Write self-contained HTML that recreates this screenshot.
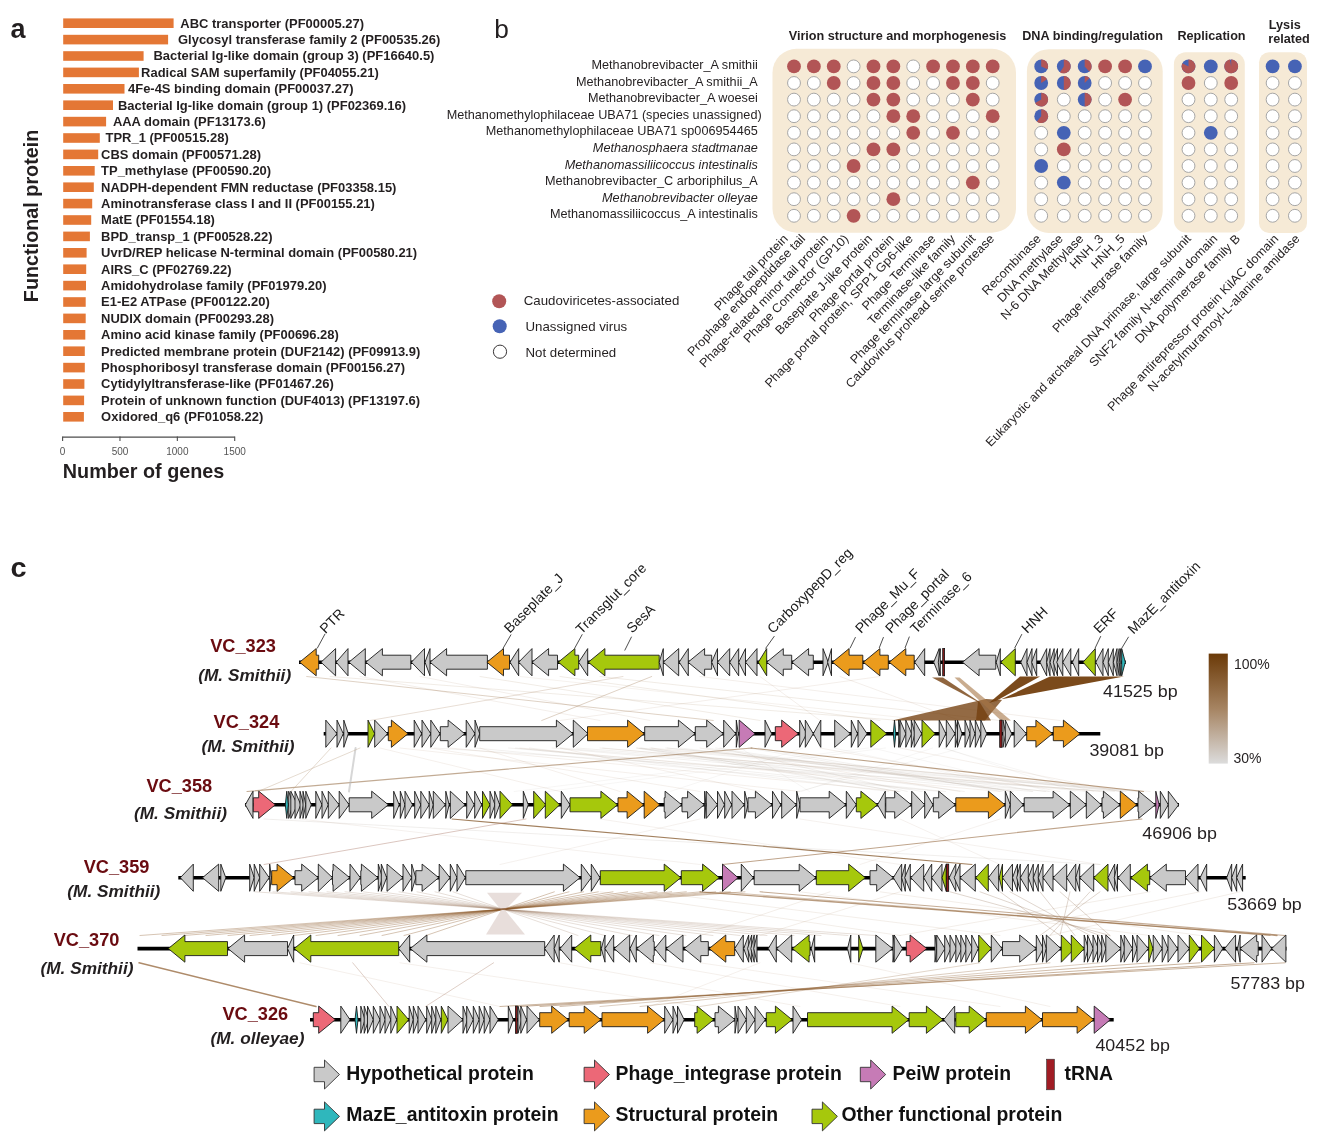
<!DOCTYPE html>
<html><head><meta charset="utf-8"><style>
html,body{margin:0;padding:0;background:#fff;}
svg{display:block;font-family:"Liberation Sans",sans-serif;will-change:transform;}
</style></head><body>
<svg width="1320" height="1148" viewBox="0 0 1320 1148">
<rect width="1320" height="1148" fill="#fff"/>
<text transform="translate(10.40,38.00)" font-size="27" font-weight="bold" fill="#231f20" >a</text>
<rect x="63.20" y="18.40" width="110.40" height="9.60" fill="#e47735" />
<text transform="translate(180.30,27.60) scale(1.0640,1)" font-size="12.2" font-weight="bold" fill="#231f20" >ABC transporter (PF00005.27)</text>
<rect x="63.20" y="34.80" width="104.90" height="9.60" fill="#e47735" />
<text transform="translate(178.00,44.00) scale(1.0640,1)" font-size="12.2" font-weight="bold" fill="#231f20" >Glycosyl transferase family 2 (PF00535.26)</text>
<rect x="63.20" y="51.20" width="80.40" height="9.60" fill="#e47735" />
<text transform="translate(153.50,60.40) scale(1.0640,1)" font-size="12.2" font-weight="bold" fill="#231f20" >Bacterial Ig-like domain (group 3) (PF16640.5)</text>
<rect x="63.20" y="67.60" width="75.70" height="9.60" fill="#e47735" />
<text transform="translate(141.10,76.80) scale(1.0640,1)" font-size="12.2" font-weight="bold" fill="#231f20" >Radical SAM superfamily (PF04055.21)</text>
<rect x="63.20" y="84.00" width="61.30" height="9.60" fill="#e47735" />
<text transform="translate(128.00,93.20) scale(1.0640,1)" font-size="12.2" font-weight="bold" fill="#231f20" >4Fe-4S binding domain (PF00037.27)</text>
<rect x="63.20" y="100.40" width="49.80" height="9.60" fill="#e47735" />
<text transform="translate(117.90,109.60) scale(1.0640,1)" font-size="12.2" font-weight="bold" fill="#231f20" >Bacterial Ig-like domain (group 1) (PF02369.16)</text>
<rect x="63.20" y="116.80" width="42.90" height="9.60" fill="#e47735" />
<text transform="translate(112.90,126.00) scale(1.0640,1)" font-size="12.2" font-weight="bold" fill="#231f20" >AAA domain (PF13173.6)</text>
<rect x="63.20" y="133.20" width="36.60" height="9.60" fill="#e47735" />
<text transform="translate(105.50,142.40) scale(1.0640,1)" font-size="12.2" font-weight="bold" fill="#231f20" >TPR_1 (PF00515.28)</text>
<rect x="63.20" y="149.60" width="35.00" height="9.60" fill="#e47735" />
<text transform="translate(101.10,158.80) scale(1.0640,1)" font-size="12.2" font-weight="bold" fill="#231f20" >CBS domain (PF00571.28)</text>
<rect x="63.20" y="166.00" width="31.50" height="9.60" fill="#e47735" />
<text transform="translate(101.10,175.20) scale(1.0640,1)" font-size="12.2" font-weight="bold" fill="#231f20" >TP_methylase (PF00590.20)</text>
<rect x="63.20" y="182.40" width="30.60" height="9.60" fill="#e47735" />
<text transform="translate(101.10,191.60) scale(1.0640,1)" font-size="12.2" font-weight="bold" fill="#231f20" >NADPH-dependent FMN reductase (PF03358.15)</text>
<rect x="63.20" y="198.80" width="29.00" height="9.60" fill="#e47735" />
<text transform="translate(101.10,208.00) scale(1.0640,1)" font-size="12.2" font-weight="bold" fill="#231f20" >Aminotransferase class I and II (PF00155.21)</text>
<rect x="63.20" y="215.20" width="28.00" height="9.60" fill="#e47735" />
<text transform="translate(101.10,224.40) scale(1.0640,1)" font-size="12.2" font-weight="bold" fill="#231f20" >MatE (PF01554.18)</text>
<rect x="63.20" y="231.60" width="26.70" height="9.60" fill="#e47735" />
<text transform="translate(101.10,240.80) scale(1.0640,1)" font-size="12.2" font-weight="bold" fill="#231f20" >BPD_transp_1 (PF00528.22)</text>
<rect x="63.20" y="248.00" width="23.40" height="9.60" fill="#e47735" />
<text transform="translate(101.10,257.20) scale(1.0640,1)" font-size="12.2" font-weight="bold" fill="#231f20" >UvrD/REP helicase N-terminal domain (PF00580.21)</text>
<rect x="63.20" y="264.40" width="23.00" height="9.60" fill="#e47735" />
<text transform="translate(101.10,273.60) scale(1.0640,1)" font-size="12.2" font-weight="bold" fill="#231f20" >AIRS_C (PF02769.22)</text>
<rect x="63.20" y="280.80" width="22.80" height="9.60" fill="#e47735" />
<text transform="translate(101.10,290.00) scale(1.0640,1)" font-size="12.2" font-weight="bold" fill="#231f20" >Amidohydrolase family (PF01979.20)</text>
<rect x="63.20" y="297.20" width="22.50" height="9.60" fill="#e47735" />
<text transform="translate(101.10,306.40) scale(1.0640,1)" font-size="12.2" font-weight="bold" fill="#231f20" >E1-E2 ATPase (PF00122.20)</text>
<rect x="63.20" y="313.60" width="22.50" height="9.60" fill="#e47735" />
<text transform="translate(101.10,322.80) scale(1.0640,1)" font-size="12.2" font-weight="bold" fill="#231f20" >NUDIX domain (PF00293.28)</text>
<rect x="63.20" y="330.00" width="22.10" height="9.60" fill="#e47735" />
<text transform="translate(101.10,339.20) scale(1.0640,1)" font-size="12.2" font-weight="bold" fill="#231f20" >Amino acid kinase family (PF00696.28)</text>
<rect x="63.20" y="346.40" width="21.60" height="9.60" fill="#e47735" />
<text transform="translate(101.10,355.60) scale(1.0640,1)" font-size="12.2" font-weight="bold" fill="#231f20" >Predicted membrane protein (DUF2142) (PF09913.9)</text>
<rect x="63.20" y="362.80" width="21.60" height="9.60" fill="#e47735" />
<text transform="translate(101.10,372.00) scale(1.0640,1)" font-size="12.2" font-weight="bold" fill="#231f20" >Phosphoribosyl transferase domain (PF00156.27)</text>
<rect x="63.20" y="379.20" width="21.20" height="9.60" fill="#e47735" />
<text transform="translate(101.10,388.40) scale(1.0640,1)" font-size="12.2" font-weight="bold" fill="#231f20" >Cytidylyltransferase-like (PF01467.26)</text>
<rect x="63.20" y="395.60" width="20.90" height="9.60" fill="#e47735" />
<text transform="translate(101.10,404.80) scale(1.0640,1)" font-size="12.2" font-weight="bold" fill="#231f20" >Protein of unknown function (DUF4013) (PF13197.6)</text>
<rect x="63.20" y="412.00" width="20.70" height="9.60" fill="#e47735" />
<text transform="translate(101.10,421.20) scale(1.0640,1)" font-size="12.2" font-weight="bold" fill="#231f20" >Oxidored_q6 (PF01058.22)</text>
<g stroke="#4d4d4d" stroke-width="1" fill="none">
<line x1="62.60" y1="437.10" x2="234.70" y2="437.10" stroke="#4d4d4d" stroke-width="1.1" />
<line x1="62.60" y1="436.60" x2="62.60" y2="441.00" stroke="#4d4d4d" stroke-width="1.1" />
<line x1="119.97" y1="436.60" x2="119.97" y2="441.00" stroke="#4d4d4d" stroke-width="1.1" />
<line x1="177.34" y1="436.60" x2="177.34" y2="441.00" stroke="#4d4d4d" stroke-width="1.1" />
<line x1="234.71" y1="436.60" x2="234.71" y2="441.00" stroke="#4d4d4d" stroke-width="1.1" />
</g>
<text transform="translate(62.60,454.50)" font-size="10" text-anchor="middle" fill="#555" >0</text>
<text transform="translate(119.97,454.50)" font-size="10" text-anchor="middle" fill="#555" >500</text>
<text transform="translate(177.34,454.50)" font-size="10" text-anchor="middle" fill="#555" >1000</text>
<text transform="translate(234.71,454.50)" font-size="10" text-anchor="middle" fill="#555" >1500</text>
<text transform="translate(62.80,478.30)" font-size="19.8" font-weight="bold" fill="#231f20" >Number of genes</text>
<text transform="translate(37.50,302.20) rotate(-90)" font-size="19.8" font-weight="bold" fill="#231f20" >Functional protein</text>
<text transform="translate(494.30,38.00)" font-size="26.3" fill="#231f20" >b</text>
<rect x="772.5" y="48.8" width="243.5" height="183.89999999999998" rx="24" ry="24" fill="#f6ead6"/>
<rect x="1026.9" y="49.2" width="135.79999999999995" height="183.8" rx="22" ry="22" fill="#f6ead6"/>
<rect x="1173.9" y="52.3" width="70.89999999999986" height="180.3" rx="12" ry="12" fill="#f6ead6"/>
<rect x="1259" y="52.3" width="48" height="180.7" rx="10" ry="10" fill="#f6ead6"/>
<text transform="translate(757.80,68.90) scale(1.0320,1)" font-size="12.3" text-anchor="end" fill="#231f20" >Methanobrevibacter_A smithii</text>
<text transform="translate(757.80,85.50) scale(1.0320,1)" font-size="12.3" text-anchor="end" fill="#231f20" >Methanobrevibacter_A smithii_A</text>
<text transform="translate(757.80,102.10) scale(1.0320,1)" font-size="12.3" text-anchor="end" fill="#231f20" >Methanobrevibacter_A woesei</text>
<text transform="translate(761.70,118.70) scale(1.0320,1)" font-size="12.3" text-anchor="end" fill="#231f20" >Methanomethylophilaceae UBA71 (species unassigned)</text>
<text transform="translate(757.80,135.30) scale(1.0320,1)" font-size="12.3" text-anchor="end" fill="#231f20" >Methanomethylophilaceae UBA71 sp006954465</text>
<text transform="translate(757.80,151.90) scale(1.0320,1)" font-size="12.3" font-style="italic" text-anchor="end" fill="#231f20" >Methanosphaera stadtmanae</text>
<text transform="translate(757.80,168.50) scale(1.0320,1)" font-size="12.3" font-style="italic" text-anchor="end" fill="#231f20" >Methanomassiliicoccus intestinalis</text>
<text transform="translate(757.80,185.10) scale(1.0320,1)" font-size="12.3" text-anchor="end" fill="#231f20" >Methanobrevibacter_C arboriphilus_A</text>
<text transform="translate(757.80,201.70) scale(1.0320,1)" font-size="12.3" font-style="italic" text-anchor="end" fill="#231f20" >Methanobrevibacter olleyae</text>
<text transform="translate(757.80,218.30) scale(1.0320,1)" font-size="12.3" text-anchor="end" fill="#231f20" >Methanomassiliicoccus_A intestinalis</text>
<circle cx="794.00" cy="66.40" r="6.90" fill="#b25556" stroke="none" stroke-width="0"/>
<circle cx="813.87" cy="66.40" r="6.90" fill="#b25556" stroke="none" stroke-width="0"/>
<circle cx="833.74" cy="66.40" r="6.90" fill="#b25556" stroke="none" stroke-width="0"/>
<circle cx="853.61" cy="66.40" r="6.43" fill="#fff" stroke="#a2a2a2" stroke-width="0.95"/>
<circle cx="873.48" cy="66.40" r="6.90" fill="#b25556" stroke="none" stroke-width="0"/>
<circle cx="893.35" cy="66.40" r="6.90" fill="#b25556" stroke="none" stroke-width="0"/>
<circle cx="913.22" cy="66.40" r="6.43" fill="#fff" stroke="#a2a2a2" stroke-width="0.95"/>
<circle cx="933.09" cy="66.40" r="6.90" fill="#b25556" stroke="none" stroke-width="0"/>
<circle cx="952.96" cy="66.40" r="6.90" fill="#b25556" stroke="none" stroke-width="0"/>
<circle cx="972.83" cy="66.40" r="6.90" fill="#b25556" stroke="none" stroke-width="0"/>
<circle cx="992.70" cy="66.40" r="6.90" fill="#b25556" stroke="none" stroke-width="0"/>
<circle cx="1041.20" cy="66.40" r="6.90" fill="#4663b5" stroke="none" stroke-width="0"/>
<path d="M1041.20,66.40 L1041.20,59.50 A6.9,6.9 0 0 1 1047.46,69.30 Z" fill="#b25556" stroke="none" stroke-width="0" />
<circle cx="1063.80" cy="66.40" r="6.90" fill="#4663b5" stroke="none" stroke-width="0"/>
<path d="M1063.80,66.40 L1063.80,59.50 A6.9,6.9 0 1 1 1059.96,72.13 Z" fill="#b25556" stroke="none" stroke-width="0" />
<circle cx="1084.70" cy="66.40" r="6.90" fill="#4663b5" stroke="none" stroke-width="0"/>
<path d="M1084.70,66.40 L1084.70,59.50 A6.9,6.9 0 0 1 1089.23,71.60 Z" fill="#b25556" stroke="none" stroke-width="0" />
<circle cx="1105.10" cy="66.40" r="6.90" fill="#b25556" stroke="none" stroke-width="0"/>
<circle cx="1125.10" cy="66.40" r="6.90" fill="#b25556" stroke="none" stroke-width="0"/>
<circle cx="1145.00" cy="66.40" r="6.90" fill="#4663b5" stroke="none" stroke-width="0"/>
<circle cx="1188.50" cy="66.40" r="6.90" fill="#4663b5" stroke="none" stroke-width="0"/>
<path d="M1188.50,66.40 L1188.50,59.50 A6.9,6.9 0 1 1 1182.39,63.19 Z" fill="#b25556" stroke="none" stroke-width="0" />
<circle cx="1210.80" cy="66.40" r="6.90" fill="#4663b5" stroke="none" stroke-width="0"/>
<circle cx="1231.20" cy="66.40" r="6.90" fill="#4663b5" stroke="none" stroke-width="0"/>
<path d="M1231.20,66.40 L1231.20,59.50 A6.9,6.9 0 1 1 1229.91,59.62 Z" fill="#b25556" stroke="none" stroke-width="0" />
<circle cx="1272.60" cy="66.40" r="6.90" fill="#4663b5" stroke="none" stroke-width="0"/>
<circle cx="1294.90" cy="66.40" r="6.90" fill="#4663b5" stroke="none" stroke-width="0"/>
<circle cx="794.00" cy="83.00" r="6.43" fill="#fff" stroke="#a2a2a2" stroke-width="0.95"/>
<circle cx="813.87" cy="83.00" r="6.43" fill="#fff" stroke="#a2a2a2" stroke-width="0.95"/>
<circle cx="833.74" cy="83.00" r="6.90" fill="#b25556" stroke="none" stroke-width="0"/>
<circle cx="853.61" cy="83.00" r="6.43" fill="#fff" stroke="#a2a2a2" stroke-width="0.95"/>
<circle cx="873.48" cy="83.00" r="6.90" fill="#b25556" stroke="none" stroke-width="0"/>
<circle cx="893.35" cy="83.00" r="6.90" fill="#b25556" stroke="none" stroke-width="0"/>
<circle cx="913.22" cy="83.00" r="6.43" fill="#fff" stroke="#a2a2a2" stroke-width="0.95"/>
<circle cx="933.09" cy="83.00" r="6.43" fill="#fff" stroke="#a2a2a2" stroke-width="0.95"/>
<circle cx="952.96" cy="83.00" r="6.90" fill="#b25556" stroke="none" stroke-width="0"/>
<circle cx="972.83" cy="83.00" r="6.90" fill="#b25556" stroke="none" stroke-width="0"/>
<circle cx="992.70" cy="83.00" r="6.43" fill="#fff" stroke="#a2a2a2" stroke-width="0.95"/>
<circle cx="1041.20" cy="83.00" r="6.90" fill="#4663b5" stroke="none" stroke-width="0"/>
<path d="M1041.20,83.00 L1041.20,76.10 A6.9,6.9 0 0 1 1047.03,79.30 Z" fill="#b25556" stroke="none" stroke-width="0" />
<circle cx="1063.80" cy="83.00" r="6.90" fill="#4663b5" stroke="none" stroke-width="0"/>
<path d="M1063.80,83.00 L1063.80,76.10 A6.9,6.9 0 0 1 1063.80,89.90 Z" fill="#b25556" stroke="none" stroke-width="0" />
<circle cx="1084.70" cy="83.00" r="6.90" fill="#4663b5" stroke="none" stroke-width="0"/>
<path d="M1084.70,83.00 L1084.70,76.10 A6.9,6.9 0 0 1 1089.58,78.12 Z" fill="#b25556" stroke="none" stroke-width="0" />
<circle cx="1105.10" cy="83.00" r="6.43" fill="#fff" stroke="#a2a2a2" stroke-width="0.95"/>
<circle cx="1125.10" cy="83.00" r="6.43" fill="#fff" stroke="#a2a2a2" stroke-width="0.95"/>
<circle cx="1145.00" cy="83.00" r="6.43" fill="#fff" stroke="#a2a2a2" stroke-width="0.95"/>
<circle cx="1188.50" cy="83.00" r="6.90" fill="#b25556" stroke="none" stroke-width="0"/>
<circle cx="1210.80" cy="83.00" r="6.43" fill="#fff" stroke="#a2a2a2" stroke-width="0.95"/>
<circle cx="1231.20" cy="83.00" r="6.90" fill="#b25556" stroke="none" stroke-width="0"/>
<circle cx="1272.60" cy="83.00" r="6.43" fill="#fff" stroke="#a2a2a2" stroke-width="0.95"/>
<circle cx="1294.90" cy="83.00" r="6.43" fill="#fff" stroke="#a2a2a2" stroke-width="0.95"/>
<circle cx="794.00" cy="99.60" r="6.43" fill="#fff" stroke="#a2a2a2" stroke-width="0.95"/>
<circle cx="813.87" cy="99.60" r="6.43" fill="#fff" stroke="#a2a2a2" stroke-width="0.95"/>
<circle cx="833.74" cy="99.60" r="6.43" fill="#fff" stroke="#a2a2a2" stroke-width="0.95"/>
<circle cx="853.61" cy="99.60" r="6.43" fill="#fff" stroke="#a2a2a2" stroke-width="0.95"/>
<circle cx="873.48" cy="99.60" r="6.90" fill="#b25556" stroke="none" stroke-width="0"/>
<circle cx="893.35" cy="99.60" r="6.90" fill="#b25556" stroke="none" stroke-width="0"/>
<circle cx="913.22" cy="99.60" r="6.43" fill="#fff" stroke="#a2a2a2" stroke-width="0.95"/>
<circle cx="933.09" cy="99.60" r="6.43" fill="#fff" stroke="#a2a2a2" stroke-width="0.95"/>
<circle cx="952.96" cy="99.60" r="6.43" fill="#fff" stroke="#a2a2a2" stroke-width="0.95"/>
<circle cx="972.83" cy="99.60" r="6.90" fill="#b25556" stroke="none" stroke-width="0"/>
<circle cx="992.70" cy="99.60" r="6.43" fill="#fff" stroke="#a2a2a2" stroke-width="0.95"/>
<circle cx="1041.20" cy="99.60" r="6.90" fill="#4663b5" stroke="none" stroke-width="0"/>
<path d="M1041.20,99.60 L1041.20,92.70 A6.9,6.9 0 1 1 1035.13,102.89 Z" fill="#b25556" stroke="none" stroke-width="0" />
<circle cx="1063.80" cy="99.60" r="6.43" fill="#fff" stroke="#a2a2a2" stroke-width="0.95"/>
<circle cx="1084.70" cy="99.60" r="6.90" fill="#4663b5" stroke="none" stroke-width="0"/>
<path d="M1084.70,99.60 L1084.70,92.70 A6.9,6.9 0 0 1 1084.70,106.50 Z" fill="#b25556" stroke="none" stroke-width="0" />
<circle cx="1105.10" cy="99.60" r="6.43" fill="#fff" stroke="#a2a2a2" stroke-width="0.95"/>
<circle cx="1125.10" cy="99.60" r="6.90" fill="#b25556" stroke="none" stroke-width="0"/>
<circle cx="1145.00" cy="99.60" r="6.43" fill="#fff" stroke="#a2a2a2" stroke-width="0.95"/>
<circle cx="1188.50" cy="99.60" r="6.43" fill="#fff" stroke="#a2a2a2" stroke-width="0.95"/>
<circle cx="1210.80" cy="99.60" r="6.43" fill="#fff" stroke="#a2a2a2" stroke-width="0.95"/>
<circle cx="1231.20" cy="99.60" r="6.43" fill="#fff" stroke="#a2a2a2" stroke-width="0.95"/>
<circle cx="1272.60" cy="99.60" r="6.43" fill="#fff" stroke="#a2a2a2" stroke-width="0.95"/>
<circle cx="1294.90" cy="99.60" r="6.43" fill="#fff" stroke="#a2a2a2" stroke-width="0.95"/>
<circle cx="794.00" cy="116.20" r="6.43" fill="#fff" stroke="#a2a2a2" stroke-width="0.95"/>
<circle cx="813.87" cy="116.20" r="6.43" fill="#fff" stroke="#a2a2a2" stroke-width="0.95"/>
<circle cx="833.74" cy="116.20" r="6.43" fill="#fff" stroke="#a2a2a2" stroke-width="0.95"/>
<circle cx="853.61" cy="116.20" r="6.43" fill="#fff" stroke="#a2a2a2" stroke-width="0.95"/>
<circle cx="873.48" cy="116.20" r="6.43" fill="#fff" stroke="#a2a2a2" stroke-width="0.95"/>
<circle cx="893.35" cy="116.20" r="6.90" fill="#b25556" stroke="none" stroke-width="0"/>
<circle cx="913.22" cy="116.20" r="6.90" fill="#b25556" stroke="none" stroke-width="0"/>
<circle cx="933.09" cy="116.20" r="6.43" fill="#fff" stroke="#a2a2a2" stroke-width="0.95"/>
<circle cx="952.96" cy="116.20" r="6.43" fill="#fff" stroke="#a2a2a2" stroke-width="0.95"/>
<circle cx="972.83" cy="116.20" r="6.43" fill="#fff" stroke="#a2a2a2" stroke-width="0.95"/>
<circle cx="992.70" cy="116.20" r="6.90" fill="#b25556" stroke="none" stroke-width="0"/>
<circle cx="1041.20" cy="116.20" r="6.90" fill="#4663b5" stroke="none" stroke-width="0"/>
<path d="M1041.20,116.20 L1041.20,109.30 A6.9,6.9 0 1 1 1036.84,121.54 Z" fill="#b25556" stroke="none" stroke-width="0" />
<circle cx="1063.80" cy="116.20" r="6.43" fill="#fff" stroke="#a2a2a2" stroke-width="0.95"/>
<circle cx="1084.70" cy="116.20" r="6.43" fill="#fff" stroke="#a2a2a2" stroke-width="0.95"/>
<circle cx="1105.10" cy="116.20" r="6.43" fill="#fff" stroke="#a2a2a2" stroke-width="0.95"/>
<circle cx="1125.10" cy="116.20" r="6.43" fill="#fff" stroke="#a2a2a2" stroke-width="0.95"/>
<circle cx="1145.00" cy="116.20" r="6.43" fill="#fff" stroke="#a2a2a2" stroke-width="0.95"/>
<circle cx="1188.50" cy="116.20" r="6.43" fill="#fff" stroke="#a2a2a2" stroke-width="0.95"/>
<circle cx="1210.80" cy="116.20" r="6.43" fill="#fff" stroke="#a2a2a2" stroke-width="0.95"/>
<circle cx="1231.20" cy="116.20" r="6.43" fill="#fff" stroke="#a2a2a2" stroke-width="0.95"/>
<circle cx="1272.60" cy="116.20" r="6.43" fill="#fff" stroke="#a2a2a2" stroke-width="0.95"/>
<circle cx="1294.90" cy="116.20" r="6.43" fill="#fff" stroke="#a2a2a2" stroke-width="0.95"/>
<circle cx="794.00" cy="132.80" r="6.43" fill="#fff" stroke="#a2a2a2" stroke-width="0.95"/>
<circle cx="813.87" cy="132.80" r="6.43" fill="#fff" stroke="#a2a2a2" stroke-width="0.95"/>
<circle cx="833.74" cy="132.80" r="6.43" fill="#fff" stroke="#a2a2a2" stroke-width="0.95"/>
<circle cx="853.61" cy="132.80" r="6.43" fill="#fff" stroke="#a2a2a2" stroke-width="0.95"/>
<circle cx="873.48" cy="132.80" r="6.43" fill="#fff" stroke="#a2a2a2" stroke-width="0.95"/>
<circle cx="893.35" cy="132.80" r="6.43" fill="#fff" stroke="#a2a2a2" stroke-width="0.95"/>
<circle cx="913.22" cy="132.80" r="6.90" fill="#b25556" stroke="none" stroke-width="0"/>
<circle cx="933.09" cy="132.80" r="6.43" fill="#fff" stroke="#a2a2a2" stroke-width="0.95"/>
<circle cx="952.96" cy="132.80" r="6.90" fill="#b25556" stroke="none" stroke-width="0"/>
<circle cx="972.83" cy="132.80" r="6.43" fill="#fff" stroke="#a2a2a2" stroke-width="0.95"/>
<circle cx="992.70" cy="132.80" r="6.43" fill="#fff" stroke="#a2a2a2" stroke-width="0.95"/>
<circle cx="1041.20" cy="132.80" r="6.43" fill="#fff" stroke="#a2a2a2" stroke-width="0.95"/>
<circle cx="1063.80" cy="132.80" r="6.90" fill="#4663b5" stroke="none" stroke-width="0"/>
<circle cx="1084.70" cy="132.80" r="6.43" fill="#fff" stroke="#a2a2a2" stroke-width="0.95"/>
<circle cx="1105.10" cy="132.80" r="6.43" fill="#fff" stroke="#a2a2a2" stroke-width="0.95"/>
<circle cx="1125.10" cy="132.80" r="6.43" fill="#fff" stroke="#a2a2a2" stroke-width="0.95"/>
<circle cx="1145.00" cy="132.80" r="6.43" fill="#fff" stroke="#a2a2a2" stroke-width="0.95"/>
<circle cx="1188.50" cy="132.80" r="6.43" fill="#fff" stroke="#a2a2a2" stroke-width="0.95"/>
<circle cx="1210.80" cy="132.80" r="6.90" fill="#4663b5" stroke="none" stroke-width="0"/>
<circle cx="1231.20" cy="132.80" r="6.43" fill="#fff" stroke="#a2a2a2" stroke-width="0.95"/>
<circle cx="1272.60" cy="132.80" r="6.43" fill="#fff" stroke="#a2a2a2" stroke-width="0.95"/>
<circle cx="1294.90" cy="132.80" r="6.43" fill="#fff" stroke="#a2a2a2" stroke-width="0.95"/>
<circle cx="794.00" cy="149.40" r="6.43" fill="#fff" stroke="#a2a2a2" stroke-width="0.95"/>
<circle cx="813.87" cy="149.40" r="6.43" fill="#fff" stroke="#a2a2a2" stroke-width="0.95"/>
<circle cx="833.74" cy="149.40" r="6.43" fill="#fff" stroke="#a2a2a2" stroke-width="0.95"/>
<circle cx="853.61" cy="149.40" r="6.43" fill="#fff" stroke="#a2a2a2" stroke-width="0.95"/>
<circle cx="873.48" cy="149.40" r="6.90" fill="#b25556" stroke="none" stroke-width="0"/>
<circle cx="893.35" cy="149.40" r="6.90" fill="#b25556" stroke="none" stroke-width="0"/>
<circle cx="913.22" cy="149.40" r="6.43" fill="#fff" stroke="#a2a2a2" stroke-width="0.95"/>
<circle cx="933.09" cy="149.40" r="6.43" fill="#fff" stroke="#a2a2a2" stroke-width="0.95"/>
<circle cx="952.96" cy="149.40" r="6.43" fill="#fff" stroke="#a2a2a2" stroke-width="0.95"/>
<circle cx="972.83" cy="149.40" r="6.43" fill="#fff" stroke="#a2a2a2" stroke-width="0.95"/>
<circle cx="992.70" cy="149.40" r="6.43" fill="#fff" stroke="#a2a2a2" stroke-width="0.95"/>
<circle cx="1041.20" cy="149.40" r="6.43" fill="#fff" stroke="#a2a2a2" stroke-width="0.95"/>
<circle cx="1063.80" cy="149.40" r="6.90" fill="#b25556" stroke="none" stroke-width="0"/>
<circle cx="1084.70" cy="149.40" r="6.43" fill="#fff" stroke="#a2a2a2" stroke-width="0.95"/>
<circle cx="1105.10" cy="149.40" r="6.43" fill="#fff" stroke="#a2a2a2" stroke-width="0.95"/>
<circle cx="1125.10" cy="149.40" r="6.43" fill="#fff" stroke="#a2a2a2" stroke-width="0.95"/>
<circle cx="1145.00" cy="149.40" r="6.43" fill="#fff" stroke="#a2a2a2" stroke-width="0.95"/>
<circle cx="1188.50" cy="149.40" r="6.43" fill="#fff" stroke="#a2a2a2" stroke-width="0.95"/>
<circle cx="1210.80" cy="149.40" r="6.43" fill="#fff" stroke="#a2a2a2" stroke-width="0.95"/>
<circle cx="1231.20" cy="149.40" r="6.43" fill="#fff" stroke="#a2a2a2" stroke-width="0.95"/>
<circle cx="1272.60" cy="149.40" r="6.43" fill="#fff" stroke="#a2a2a2" stroke-width="0.95"/>
<circle cx="1294.90" cy="149.40" r="6.43" fill="#fff" stroke="#a2a2a2" stroke-width="0.95"/>
<circle cx="794.00" cy="166.00" r="6.43" fill="#fff" stroke="#a2a2a2" stroke-width="0.95"/>
<circle cx="813.87" cy="166.00" r="6.43" fill="#fff" stroke="#a2a2a2" stroke-width="0.95"/>
<circle cx="833.74" cy="166.00" r="6.43" fill="#fff" stroke="#a2a2a2" stroke-width="0.95"/>
<circle cx="853.61" cy="166.00" r="6.90" fill="#b25556" stroke="none" stroke-width="0"/>
<circle cx="873.48" cy="166.00" r="6.43" fill="#fff" stroke="#a2a2a2" stroke-width="0.95"/>
<circle cx="893.35" cy="166.00" r="6.43" fill="#fff" stroke="#a2a2a2" stroke-width="0.95"/>
<circle cx="913.22" cy="166.00" r="6.43" fill="#fff" stroke="#a2a2a2" stroke-width="0.95"/>
<circle cx="933.09" cy="166.00" r="6.43" fill="#fff" stroke="#a2a2a2" stroke-width="0.95"/>
<circle cx="952.96" cy="166.00" r="6.43" fill="#fff" stroke="#a2a2a2" stroke-width="0.95"/>
<circle cx="972.83" cy="166.00" r="6.43" fill="#fff" stroke="#a2a2a2" stroke-width="0.95"/>
<circle cx="992.70" cy="166.00" r="6.43" fill="#fff" stroke="#a2a2a2" stroke-width="0.95"/>
<circle cx="1041.20" cy="166.00" r="6.90" fill="#4663b5" stroke="none" stroke-width="0"/>
<circle cx="1063.80" cy="166.00" r="6.43" fill="#fff" stroke="#a2a2a2" stroke-width="0.95"/>
<circle cx="1084.70" cy="166.00" r="6.43" fill="#fff" stroke="#a2a2a2" stroke-width="0.95"/>
<circle cx="1105.10" cy="166.00" r="6.43" fill="#fff" stroke="#a2a2a2" stroke-width="0.95"/>
<circle cx="1125.10" cy="166.00" r="6.43" fill="#fff" stroke="#a2a2a2" stroke-width="0.95"/>
<circle cx="1145.00" cy="166.00" r="6.43" fill="#fff" stroke="#a2a2a2" stroke-width="0.95"/>
<circle cx="1188.50" cy="166.00" r="6.43" fill="#fff" stroke="#a2a2a2" stroke-width="0.95"/>
<circle cx="1210.80" cy="166.00" r="6.43" fill="#fff" stroke="#a2a2a2" stroke-width="0.95"/>
<circle cx="1231.20" cy="166.00" r="6.43" fill="#fff" stroke="#a2a2a2" stroke-width="0.95"/>
<circle cx="1272.60" cy="166.00" r="6.43" fill="#fff" stroke="#a2a2a2" stroke-width="0.95"/>
<circle cx="1294.90" cy="166.00" r="6.43" fill="#fff" stroke="#a2a2a2" stroke-width="0.95"/>
<circle cx="794.00" cy="182.60" r="6.43" fill="#fff" stroke="#a2a2a2" stroke-width="0.95"/>
<circle cx="813.87" cy="182.60" r="6.43" fill="#fff" stroke="#a2a2a2" stroke-width="0.95"/>
<circle cx="833.74" cy="182.60" r="6.43" fill="#fff" stroke="#a2a2a2" stroke-width="0.95"/>
<circle cx="853.61" cy="182.60" r="6.43" fill="#fff" stroke="#a2a2a2" stroke-width="0.95"/>
<circle cx="873.48" cy="182.60" r="6.43" fill="#fff" stroke="#a2a2a2" stroke-width="0.95"/>
<circle cx="893.35" cy="182.60" r="6.43" fill="#fff" stroke="#a2a2a2" stroke-width="0.95"/>
<circle cx="913.22" cy="182.60" r="6.43" fill="#fff" stroke="#a2a2a2" stroke-width="0.95"/>
<circle cx="933.09" cy="182.60" r="6.43" fill="#fff" stroke="#a2a2a2" stroke-width="0.95"/>
<circle cx="952.96" cy="182.60" r="6.43" fill="#fff" stroke="#a2a2a2" stroke-width="0.95"/>
<circle cx="972.83" cy="182.60" r="6.90" fill="#b25556" stroke="none" stroke-width="0"/>
<circle cx="992.70" cy="182.60" r="6.43" fill="#fff" stroke="#a2a2a2" stroke-width="0.95"/>
<circle cx="1041.20" cy="182.60" r="6.43" fill="#fff" stroke="#a2a2a2" stroke-width="0.95"/>
<circle cx="1063.80" cy="182.60" r="6.90" fill="#4663b5" stroke="none" stroke-width="0"/>
<circle cx="1084.70" cy="182.60" r="6.43" fill="#fff" stroke="#a2a2a2" stroke-width="0.95"/>
<circle cx="1105.10" cy="182.60" r="6.43" fill="#fff" stroke="#a2a2a2" stroke-width="0.95"/>
<circle cx="1125.10" cy="182.60" r="6.43" fill="#fff" stroke="#a2a2a2" stroke-width="0.95"/>
<circle cx="1145.00" cy="182.60" r="6.43" fill="#fff" stroke="#a2a2a2" stroke-width="0.95"/>
<circle cx="1188.50" cy="182.60" r="6.43" fill="#fff" stroke="#a2a2a2" stroke-width="0.95"/>
<circle cx="1210.80" cy="182.60" r="6.43" fill="#fff" stroke="#a2a2a2" stroke-width="0.95"/>
<circle cx="1231.20" cy="182.60" r="6.43" fill="#fff" stroke="#a2a2a2" stroke-width="0.95"/>
<circle cx="1272.60" cy="182.60" r="6.43" fill="#fff" stroke="#a2a2a2" stroke-width="0.95"/>
<circle cx="1294.90" cy="182.60" r="6.43" fill="#fff" stroke="#a2a2a2" stroke-width="0.95"/>
<circle cx="794.00" cy="199.20" r="6.43" fill="#fff" stroke="#a2a2a2" stroke-width="0.95"/>
<circle cx="813.87" cy="199.20" r="6.43" fill="#fff" stroke="#a2a2a2" stroke-width="0.95"/>
<circle cx="833.74" cy="199.20" r="6.43" fill="#fff" stroke="#a2a2a2" stroke-width="0.95"/>
<circle cx="853.61" cy="199.20" r="6.43" fill="#fff" stroke="#a2a2a2" stroke-width="0.95"/>
<circle cx="873.48" cy="199.20" r="6.43" fill="#fff" stroke="#a2a2a2" stroke-width="0.95"/>
<circle cx="893.35" cy="199.20" r="6.90" fill="#b25556" stroke="none" stroke-width="0"/>
<circle cx="913.22" cy="199.20" r="6.43" fill="#fff" stroke="#a2a2a2" stroke-width="0.95"/>
<circle cx="933.09" cy="199.20" r="6.43" fill="#fff" stroke="#a2a2a2" stroke-width="0.95"/>
<circle cx="952.96" cy="199.20" r="6.43" fill="#fff" stroke="#a2a2a2" stroke-width="0.95"/>
<circle cx="972.83" cy="199.20" r="6.43" fill="#fff" stroke="#a2a2a2" stroke-width="0.95"/>
<circle cx="992.70" cy="199.20" r="6.43" fill="#fff" stroke="#a2a2a2" stroke-width="0.95"/>
<circle cx="1041.20" cy="199.20" r="6.43" fill="#fff" stroke="#a2a2a2" stroke-width="0.95"/>
<circle cx="1063.80" cy="199.20" r="6.43" fill="#fff" stroke="#a2a2a2" stroke-width="0.95"/>
<circle cx="1084.70" cy="199.20" r="6.43" fill="#fff" stroke="#a2a2a2" stroke-width="0.95"/>
<circle cx="1105.10" cy="199.20" r="6.43" fill="#fff" stroke="#a2a2a2" stroke-width="0.95"/>
<circle cx="1125.10" cy="199.20" r="6.43" fill="#fff" stroke="#a2a2a2" stroke-width="0.95"/>
<circle cx="1145.00" cy="199.20" r="6.43" fill="#fff" stroke="#a2a2a2" stroke-width="0.95"/>
<circle cx="1188.50" cy="199.20" r="6.43" fill="#fff" stroke="#a2a2a2" stroke-width="0.95"/>
<circle cx="1210.80" cy="199.20" r="6.43" fill="#fff" stroke="#a2a2a2" stroke-width="0.95"/>
<circle cx="1231.20" cy="199.20" r="6.43" fill="#fff" stroke="#a2a2a2" stroke-width="0.95"/>
<circle cx="1272.60" cy="199.20" r="6.43" fill="#fff" stroke="#a2a2a2" stroke-width="0.95"/>
<circle cx="1294.90" cy="199.20" r="6.43" fill="#fff" stroke="#a2a2a2" stroke-width="0.95"/>
<circle cx="794.00" cy="215.80" r="6.43" fill="#fff" stroke="#a2a2a2" stroke-width="0.95"/>
<circle cx="813.87" cy="215.80" r="6.43" fill="#fff" stroke="#a2a2a2" stroke-width="0.95"/>
<circle cx="833.74" cy="215.80" r="6.43" fill="#fff" stroke="#a2a2a2" stroke-width="0.95"/>
<circle cx="853.61" cy="215.80" r="6.90" fill="#b25556" stroke="none" stroke-width="0"/>
<circle cx="873.48" cy="215.80" r="6.43" fill="#fff" stroke="#a2a2a2" stroke-width="0.95"/>
<circle cx="893.35" cy="215.80" r="6.43" fill="#fff" stroke="#a2a2a2" stroke-width="0.95"/>
<circle cx="913.22" cy="215.80" r="6.43" fill="#fff" stroke="#a2a2a2" stroke-width="0.95"/>
<circle cx="933.09" cy="215.80" r="6.43" fill="#fff" stroke="#a2a2a2" stroke-width="0.95"/>
<circle cx="952.96" cy="215.80" r="6.43" fill="#fff" stroke="#a2a2a2" stroke-width="0.95"/>
<circle cx="972.83" cy="215.80" r="6.43" fill="#fff" stroke="#a2a2a2" stroke-width="0.95"/>
<circle cx="992.70" cy="215.80" r="6.43" fill="#fff" stroke="#a2a2a2" stroke-width="0.95"/>
<circle cx="1041.20" cy="215.80" r="6.43" fill="#fff" stroke="#a2a2a2" stroke-width="0.95"/>
<circle cx="1063.80" cy="215.80" r="6.43" fill="#fff" stroke="#a2a2a2" stroke-width="0.95"/>
<circle cx="1084.70" cy="215.80" r="6.43" fill="#fff" stroke="#a2a2a2" stroke-width="0.95"/>
<circle cx="1105.10" cy="215.80" r="6.43" fill="#fff" stroke="#a2a2a2" stroke-width="0.95"/>
<circle cx="1125.10" cy="215.80" r="6.43" fill="#fff" stroke="#a2a2a2" stroke-width="0.95"/>
<circle cx="1145.00" cy="215.80" r="6.43" fill="#fff" stroke="#a2a2a2" stroke-width="0.95"/>
<circle cx="1188.50" cy="215.80" r="6.43" fill="#fff" stroke="#a2a2a2" stroke-width="0.95"/>
<circle cx="1210.80" cy="215.80" r="6.43" fill="#fff" stroke="#a2a2a2" stroke-width="0.95"/>
<circle cx="1231.20" cy="215.80" r="6.43" fill="#fff" stroke="#a2a2a2" stroke-width="0.95"/>
<circle cx="1272.60" cy="215.80" r="6.43" fill="#fff" stroke="#a2a2a2" stroke-width="0.95"/>
<circle cx="1294.90" cy="215.80" r="6.43" fill="#fff" stroke="#a2a2a2" stroke-width="0.95"/>
<text transform="translate(788.70,39.70) scale(1.0300,1)" font-size="12.3" font-weight="bold" fill="#231f20" >Virion structure and morphogenesis</text>
<text transform="translate(1022.20,39.70) scale(1.0300,1)" font-size="12.3" font-weight="bold" fill="#231f20" >DNA binding/regulation</text>
<text transform="translate(1177.40,39.70) scale(1.0300,1)" font-size="12.3" font-weight="bold" fill="#231f20" >Replication</text>
<text transform="translate(1268.80,28.80) scale(1.0300,1)" font-size="12.3" font-weight="bold" fill="#231f20" >Lysis</text>
<text transform="translate(1268.30,42.90) scale(1.0300,1)" font-size="12.3" font-weight="bold" fill="#231f20" >related</text>
<text transform="translate(788.70,239.30) rotate(-46) scale(1.0450,1)" font-size="12.3" text-anchor="end" fill="#231f20" >Phage tail protein</text>
<text transform="translate(806.07,239.30) rotate(-46) scale(1.0450,1)" font-size="12.3" text-anchor="end" fill="#231f20" >Prophage endopeptidase tail</text>
<text transform="translate(828.94,239.30) rotate(-46) scale(1.0450,1)" font-size="12.3" text-anchor="end" fill="#231f20" >Phage-related minor tail protein</text>
<text transform="translate(849.21,239.30) rotate(-46) scale(1.0450,1)" font-size="12.3" text-anchor="end" fill="#231f20" >Phage Connector (GP10)</text>
<text transform="translate(872.88,239.30) rotate(-46) scale(1.0450,1)" font-size="12.3" text-anchor="end" fill="#231f20" >Baseplate J-like protein</text>
<text transform="translate(894.65,239.30) rotate(-46) scale(1.0450,1)" font-size="12.3" text-anchor="end" fill="#231f20" >Phage portal protein</text>
<text transform="translate(913.62,239.30) rotate(-46) scale(1.0450,1)" font-size="12.3" text-anchor="end" fill="#231f20" >Phage portal protein, SPP1 Gp6-like</text>
<text transform="translate(936.19,239.30) rotate(-46) scale(1.0450,1)" font-size="12.3" text-anchor="end" fill="#231f20" >Phage Terminase</text>
<text transform="translate(956.06,239.30) rotate(-46) scale(1.0450,1)" font-size="12.3" text-anchor="end" fill="#231f20" >Terminase-like family</text>
<text transform="translate(976.13,239.30) rotate(-46) scale(1.0450,1)" font-size="12.3" text-anchor="end" fill="#231f20" >Phage terminase large subunit</text>
<text transform="translate(994.90,239.30) rotate(-46) scale(1.0450,1)" font-size="12.3" text-anchor="end" fill="#231f20" >Caudovirus prohead serine protease</text>
<text transform="translate(1041.60,239.30) rotate(-46) scale(1.0450,1)" font-size="12.3" text-anchor="end" fill="#231f20" >Recombinase</text>
<text transform="translate(1063.60,239.30) rotate(-46) scale(1.0450,1)" font-size="12.3" text-anchor="end" fill="#231f20" >DNA methylase</text>
<text transform="translate(1084.10,239.30) rotate(-46) scale(1.0450,1)" font-size="12.3" text-anchor="end" fill="#231f20" >N-6 DNA Methylase</text>
<text transform="translate(1104.10,239.30) rotate(-46) scale(1.0450,1)" font-size="12.3" text-anchor="end" fill="#231f20" >HNH_3</text>
<text transform="translate(1125.40,239.30) rotate(-46) scale(1.0450,1)" font-size="12.3" text-anchor="end" fill="#231f20" >HNH_5</text>
<text transform="translate(1148.10,239.30) rotate(-46) scale(1.0450,1)" font-size="12.3" text-anchor="end" fill="#231f20" >Phage integrase family</text>
<text transform="translate(1191.60,239.30) rotate(-46) scale(1.0150,1)" font-size="12.3" text-anchor="end" fill="#231f20" >Eukaryotic and archaeal DNA primase, large subunit</text>
<text transform="translate(1218.20,239.30) rotate(-46) scale(1.0450,1)" font-size="12.3" text-anchor="end" fill="#231f20" >SNF2 family N-terminal domain</text>
<text transform="translate(1241.00,239.30) rotate(-46) scale(1.0450,1)" font-size="12.3" text-anchor="end" fill="#231f20" >DNA polymerase family B</text>
<text transform="translate(1279.10,239.30) rotate(-46) scale(1.0450,1)" font-size="12.3" text-anchor="end" fill="#231f20" >Phage antirepressor protein KilAC domain</text>
<text transform="translate(1300.40,239.30) rotate(-46) scale(1.0450,1)" font-size="12.3" text-anchor="end" fill="#231f20" >N-acetylmuramoyl-L-alanine amidase</text>
<circle cx="499.20" cy="301.30" r="7.00" fill="#b25556" stroke="none" stroke-width="0"/>
<text transform="translate(523.80,305.20) scale(1.0200,1)" font-size="13" fill="#231f20" >Caudoviricetes-associated</text>
<circle cx="499.70" cy="326.30" r="7.00" fill="#4663b5" stroke="none" stroke-width="0"/>
<text transform="translate(525.50,330.80) scale(1.0200,1)" font-size="13" fill="#231f20" >Unassigned virus</text>
<circle cx="500.00" cy="351.70" r="6.60" fill="#fff" stroke="#231f20" stroke-width="0.9"/>
<text transform="translate(525.50,357.30) scale(1.0200,1)" font-size="13" fill="#231f20" >Not determined</text>
<g stroke-linecap="round">
<line x1="306.7" y1="676.5" x2="713.3" y2="720.5" stroke="#8b5a2b" stroke-width="0.8" stroke-opacity="0.35"/>
<line x1="651.7" y1="676.5" x2="541.7" y2="720.5" stroke="#8b5a2b" stroke-width="0.8" stroke-opacity="0.35"/>
<line x1="623" y1="676.5" x2="370" y2="720.5" stroke="#8b5a2b" stroke-width="0.8" stroke-opacity="0.25"/>
<line x1="330" y1="676.5" x2="900" y2="720.5" stroke="#8b5a2b" stroke-width="0.8" stroke-opacity="0.15"/>
<line x1="480" y1="676.5" x2="760" y2="720.5" stroke="#8b5a2b" stroke-width="0.8" stroke-opacity="0.15"/>
<line x1="600" y1="676.5" x2="1000" y2="720.5" stroke="#8b5a2b" stroke-width="0.8" stroke-opacity="0.15"/>
<line x1="700" y1="676.5" x2="1060" y2="720.5" stroke="#8b5a2b" stroke-width="0.8" stroke-opacity="0.12"/>
<line x1="560" y1="676.5" x2="880" y2="720.5" stroke="#8b5a2b" stroke-width="0.8" stroke-opacity="0.15"/>
<line x1="760" y1="676.5" x2="820" y2="720.5" stroke="#8b5a2b" stroke-width="0.8" stroke-opacity="0.12"/>
<line x1="420" y1="676.5" x2="650" y2="720.5" stroke="#8b5a2b" stroke-width="0.8" stroke-opacity="0.12"/>
<line x1="840" y1="676.5" x2="960" y2="720.5" stroke="#8b5a2b" stroke-width="0.8" stroke-opacity="0.12"/>
<line x1="880" y1="676.5" x2="560" y2="720.5" stroke="#8b5a2b" stroke-width="0.8" stroke-opacity="0.12"/>
<line x1="520" y1="676.5" x2="930" y2="720.5" stroke="#8b5a2b" stroke-width="0.8" stroke-opacity="0.1"/>
<line x1="360" y1="676.5" x2="600" y2="720.5" stroke="#8b5a2b" stroke-width="0.8" stroke-opacity="0.12"/>
<path d="M1020,676.5 L1040,676.5 L996,701 L989,703 Z" fill="#74400f" fill-opacity="0.95"/>
<path d="M1050,676.5 L1124,676.5 L1000,699.5 L991,704 Z" fill="#74400f" fill-opacity="0.95"/>
<path d="M986,699 L1002,700 L985,720.5 L892,720.5 Z" fill="#74400f" fill-opacity="0.78"/>
<path d="M932,677.5 L943,677.5 L979.5,702 L978,702 Z" fill="#74400f" fill-opacity="0.8"/>
<path d="M978,702 L979.5,702 L991,720.5 L976,720.5 Z" fill="#74400f" fill-opacity="0.8"/>
<path d="M954.5,677.5 L959.5,677.5 L1011,720.5 L1001,720.5 Z" fill="#a57444" fill-opacity="0.6"/>
<line x1="752" y1="748" x2="247" y2="791.5" stroke="#a88866" stroke-width="1.1" stroke-opacity="0.7"/>
<line x1="751" y1="748" x2="1143.6" y2="791.5" stroke="#a07a55" stroke-width="1.1" stroke-opacity="0.7"/>
<line x1="355.6" y1="748" x2="349" y2="791.5" stroke="#bdbdbd" stroke-width="2.0" stroke-opacity="0.6"/>
<line x1="331" y1="748" x2="291" y2="791.5" stroke="#bfa48a" stroke-width="0.8" stroke-opacity="0.5"/>
<line x1="360" y1="748" x2="258" y2="791.5" stroke="#bfa48a" stroke-width="0.8" stroke-opacity="0.5"/>
<line x1="400" y1="748" x2="800" y2="791.5" stroke="#8b5a2b" stroke-width="0.7" stroke-opacity="0.13"/>
<line x1="450" y1="748" x2="900" y2="791.5" stroke="#8b5a2b" stroke-width="0.7" stroke-opacity="0.13"/>
<line x1="520" y1="748" x2="1000" y2="791.5" stroke="#8b5a2b" stroke-width="0.7" stroke-opacity="0.13"/>
<line x1="600" y1="748" x2="1100" y2="791.5" stroke="#8b5a2b" stroke-width="0.7" stroke-opacity="0.13"/>
<line x1="650" y1="748" x2="1150" y2="791.5" stroke="#8b5a2b" stroke-width="0.7" stroke-opacity="0.13"/>
<line x1="430" y1="748" x2="700" y2="791.5" stroke="#8b5a2b" stroke-width="0.7" stroke-opacity="0.13"/>
<line x1="480" y1="748" x2="620" y2="791.5" stroke="#8b5a2b" stroke-width="0.7" stroke-opacity="0.13"/>
<line x1="700" y1="748" x2="960" y2="791.5" stroke="#8b5a2b" stroke-width="0.7" stroke-opacity="0.13"/>
<line x1="820" y1="748" x2="1060" y2="791.5" stroke="#8b5a2b" stroke-width="0.7" stroke-opacity="0.13"/>
<line x1="900" y1="748" x2="1120" y2="791.5" stroke="#8b5a2b" stroke-width="0.7" stroke-opacity="0.13"/>
<line x1="560" y1="748" x2="760" y2="791.5" stroke="#8b5a2b" stroke-width="0.7" stroke-opacity="0.13"/>
<line x1="380" y1="748" x2="560" y2="791.5" stroke="#8b5a2b" stroke-width="0.7" stroke-opacity="0.13"/>
<line x1="508.5283269403242" y1="748" x2="1032.3841830828665" y2="791.5" stroke="#a09080" stroke-width="0.7" stroke-opacity="0.18"/>
<line x1="552.0852049608661" y1="748" x2="1049.0976108069344" y2="791.5" stroke="#a09080" stroke-width="0.7" stroke-opacity="0.18"/>
<line x1="636.4877003556578" y1="748" x2="898.3480805871477" y2="791.5" stroke="#a09080" stroke-width="0.7" stroke-opacity="0.18"/>
<line x1="434.3454372131085" y1="748" x2="1114.491342987009" y2="791.5" stroke="#a09080" stroke-width="0.7" stroke-opacity="0.18"/>
<line x1="515.5868247282425" y1="748" x2="945.6126690930749" y2="791.5" stroke="#a09080" stroke-width="0.7" stroke-opacity="0.18"/>
<line x1="758.5627957184527" y1="748" x2="1011.6737821062854" y2="791.5" stroke="#a09080" stroke-width="0.7" stroke-opacity="0.18"/>
<line x1="706.0322789205483" y1="748" x2="1013.3788984358138" y2="791.5" stroke="#a09080" stroke-width="0.7" stroke-opacity="0.18"/>
<line x1="640.8924863795735" y1="748" x2="922.1725987265867" y2="791.5" stroke="#a09080" stroke-width="0.7" stroke-opacity="0.18"/>
<line x1="639.5040172341122" y1="748" x2="1123.052686000123" y2="791.5" stroke="#a09080" stroke-width="0.7" stroke-opacity="0.18"/>
<line x1="602.6497994264894" y1="748" x2="1087.5505197364173" y2="791.5" stroke="#a09080" stroke-width="0.7" stroke-opacity="0.18"/>
<line x1="651.5657868719655" y1="748" x2="897.9288027035592" y2="791.5" stroke="#a09080" stroke-width="0.7" stroke-opacity="0.18"/>
<line x1="680.2159812746497" y1="748" x2="1045.507883220769" y2="791.5" stroke="#a09080" stroke-width="0.7" stroke-opacity="0.18"/>
<line x1="529.4183276401851" y1="748" x2="888.68329041153" y2="791.5" stroke="#a09080" stroke-width="0.7" stroke-opacity="0.18"/>
<line x1="715.623988203052" y1="748" x2="1012.3697448263307" y2="791.5" stroke="#a09080" stroke-width="0.7" stroke-opacity="0.18"/>
<line x1="667.2118949417151" y1="748" x2="1126.0675840715348" y2="791.5" stroke="#a09080" stroke-width="0.7" stroke-opacity="0.18"/>
<line x1="665.6627295916968" y1="748" x2="1137.907626923485" y2="791.5" stroke="#a09080" stroke-width="0.7" stroke-opacity="0.18"/>
<line x1="560.3379233202455" y1="748" x2="1104.2544558758639" y2="791.5" stroke="#a09080" stroke-width="0.7" stroke-opacity="0.18"/>
<line x1="576.724948496751" y1="748" x2="1141.964282077266" y2="791.5" stroke="#a09080" stroke-width="0.7" stroke-opacity="0.18"/>
<line x1="720.0259979115538" y1="748" x2="907.2872067246457" y2="791.5" stroke="#a09080" stroke-width="0.7" stroke-opacity="0.18"/>
<line x1="474.86972386622074" y1="748" x2="940.7563435452785" y2="791.5" stroke="#a09080" stroke-width="0.7" stroke-opacity="0.18"/>
<line x1="748.608445836407" y1="748" x2="1002.1253226556802" y2="791.5" stroke="#a09080" stroke-width="0.7" stroke-opacity="0.18"/>
<line x1="636.7939359860453" y1="748" x2="964.2873355591415" y2="791.5" stroke="#a09080" stroke-width="0.7" stroke-opacity="0.18"/>
<line x1="802.8971935316238" y1="748" x2="670.1063811914319" y2="791.5" stroke="#a09080" stroke-width="0.7" stroke-opacity="0.12"/>
<line x1="740.364195508072" y1="748" x2="809.5518751837544" y2="791.5" stroke="#a09080" stroke-width="0.7" stroke-opacity="0.12"/>
<line x1="833.7007171880796" y1="748" x2="1032.9412395934426" y2="791.5" stroke="#a09080" stroke-width="0.7" stroke-opacity="0.12"/>
<line x1="872.7928546539866" y1="748" x2="1050.261920840012" y2="791.5" stroke="#a09080" stroke-width="0.7" stroke-opacity="0.12"/>
<line x1="942.5602265587022" y1="748" x2="1093.6927514081706" y2="791.5" stroke="#a09080" stroke-width="0.7" stroke-opacity="0.12"/>
<line x1="868.5094168650073" y1="748" x2="514.1697353797488" y2="791.5" stroke="#a09080" stroke-width="0.7" stroke-opacity="0.12"/>
<line x1="944.2550132465074" y1="748" x2="1075.243063116343" y2="791.5" stroke="#a09080" stroke-width="0.7" stroke-opacity="0.12"/>
<line x1="961.8783938048946" y1="748" x2="798.3752524320264" y2="791.5" stroke="#a09080" stroke-width="0.7" stroke-opacity="0.12"/>
<line x1="885.5268080696796" y1="748" x2="547.7874885729188" y2="791.5" stroke="#a09080" stroke-width="0.7" stroke-opacity="0.12"/>
<line x1="932.6431721093417" y1="748" x2="801.4726466458993" y2="791.5" stroke="#a09080" stroke-width="0.7" stroke-opacity="0.12"/>
<line x1="452" y1="819" x2="972" y2="864.5" stroke="#7a4a1a" stroke-width="1.1" stroke-opacity="0.7"/>
<line x1="526" y1="819" x2="264" y2="864.5" stroke="#b08070" stroke-width="1.0" stroke-opacity="0.45"/>
<line x1="1142" y1="819" x2="722.7" y2="864.5" stroke="#8b5a2b" stroke-width="1.1" stroke-opacity="0.55"/>
<line x1="264" y1="819" x2="1100" y2="864.5" stroke="#c8c0b8" stroke-width="0.8" stroke-opacity="0.35"/>
<line x1="300" y1="819" x2="700" y2="864.5" stroke="#8b5a2b" stroke-width="0.7" stroke-opacity="0.12"/>
<line x1="600" y1="819" x2="900" y2="864.5" stroke="#8b5a2b" stroke-width="0.7" stroke-opacity="0.12"/>
<line x1="800" y1="819" x2="1100" y2="864.5" stroke="#8b5a2b" stroke-width="0.7" stroke-opacity="0.12"/>
<line x1="900" y1="819" x2="1000" y2="864.5" stroke="#8b5a2b" stroke-width="0.7" stroke-opacity="0.12"/>
<line x1="700" y1="819" x2="500" y2="864.5" stroke="#8b5a2b" stroke-width="0.7" stroke-opacity="0.12"/>
<line x1="1000" y1="819" x2="860" y2="864.5" stroke="#8b5a2b" stroke-width="0.7" stroke-opacity="0.12"/>
<line x1="255" y1="891.8" x2="875.0" y2="935.5" stroke="#9a7a60" stroke-width="0.8" stroke-opacity="0.3"/>
<line x1="273" y1="891.8" x2="848.0" y2="935.5" stroke="#9a7a60" stroke-width="0.8" stroke-opacity="0.3"/>
<line x1="291" y1="891.8" x2="821.0" y2="935.5" stroke="#9a7a60" stroke-width="0.8" stroke-opacity="0.3"/>
<line x1="309" y1="891.8" x2="794.0" y2="935.5" stroke="#9a7a60" stroke-width="0.8" stroke-opacity="0.3"/>
<line x1="327" y1="891.8" x2="767.0" y2="935.5" stroke="#9a7a60" stroke-width="0.8" stroke-opacity="0.3"/>
<line x1="345" y1="891.8" x2="740.0" y2="935.5" stroke="#9a7a60" stroke-width="0.8" stroke-opacity="0.3"/>
<line x1="363" y1="891.8" x2="713.0" y2="935.5" stroke="#9a7a60" stroke-width="0.8" stroke-opacity="0.3"/>
<line x1="381" y1="891.8" x2="686.0" y2="935.5" stroke="#9a7a60" stroke-width="0.8" stroke-opacity="0.3"/>
<line x1="399" y1="891.8" x2="659.0" y2="935.5" stroke="#9a7a60" stroke-width="0.8" stroke-opacity="0.3"/>
<line x1="417" y1="891.8" x2="632.0" y2="935.5" stroke="#9a7a60" stroke-width="0.8" stroke-opacity="0.3"/>
<line x1="435" y1="891.8" x2="605.0" y2="935.5" stroke="#9a7a60" stroke-width="0.8" stroke-opacity="0.3"/>
<line x1="453" y1="891.8" x2="578.0" y2="935.5" stroke="#9a7a60" stroke-width="0.8" stroke-opacity="0.3"/>
<line x1="745.0" y1="891.8" x2="140" y2="935.5" stroke="#8b5a2b" stroke-width="0.9" stroke-opacity="0.4"/>
<line x1="730.3333333333334" y1="891.8" x2="162" y2="935.5" stroke="#8b5a2b" stroke-width="0.9" stroke-opacity="0.4"/>
<line x1="715.6666666666666" y1="891.8" x2="184" y2="935.5" stroke="#8b5a2b" stroke-width="0.9" stroke-opacity="0.4"/>
<line x1="701.0000000000001" y1="891.8" x2="206" y2="935.5" stroke="#8b5a2b" stroke-width="0.9" stroke-opacity="0.4"/>
<line x1="686.3333333333334" y1="891.8" x2="228" y2="935.5" stroke="#8b5a2b" stroke-width="0.9" stroke-opacity="0.4"/>
<line x1="671.6666666666667" y1="891.8" x2="250" y2="935.5" stroke="#8b5a2b" stroke-width="0.9" stroke-opacity="0.4"/>
<line x1="657.0" y1="891.8" x2="272" y2="935.5" stroke="#8b5a2b" stroke-width="0.9" stroke-opacity="0.4"/>
<line x1="642.3333333333334" y1="891.8" x2="294" y2="935.5" stroke="#8b5a2b" stroke-width="0.9" stroke-opacity="0.4"/>
<line x1="627.6666666666667" y1="891.8" x2="316" y2="935.5" stroke="#8b5a2b" stroke-width="0.9" stroke-opacity="0.4"/>
<line x1="613.0" y1="891.8" x2="338" y2="935.5" stroke="#8b5a2b" stroke-width="0.9" stroke-opacity="0.4"/>
<line x1="598.3333333333334" y1="891.8" x2="360" y2="935.5" stroke="#8b5a2b" stroke-width="0.9" stroke-opacity="0.4"/>
<line x1="583.6666666666666" y1="891.8" x2="382" y2="935.5" stroke="#8b5a2b" stroke-width="0.9" stroke-opacity="0.4"/>
<line x1="569.0" y1="891.8" x2="404" y2="935.5" stroke="#8b5a2b" stroke-width="0.9" stroke-opacity="0.4"/>
<line x1="554.3333333333334" y1="891.8" x2="426" y2="935.5" stroke="#8b5a2b" stroke-width="0.9" stroke-opacity="0.4"/>
<path d="M487,892.8 L522,892.8 L505,910 L501,910 Z" fill="#b89890" fill-opacity="0.32"/>
<path d="M501,910 L505,910 L525,934.5 L486,934.5 Z" fill="#b89890" fill-opacity="0.32"/>
<line x1="700" y1="891.8" x2="1277" y2="935.5" stroke="#8b5a2b" stroke-width="1.3" stroke-opacity="0.6"/>
<line x1="760" y1="891.8" x2="1285" y2="935.5" stroke="#8b5a2b" stroke-width="1.1" stroke-opacity="0.5"/>
<line x1="720" y1="891.8" x2="1270" y2="935.5" stroke="#8b5a2b" stroke-width="0.9" stroke-opacity="0.4"/>
<line x1="950" y1="891.8" x2="1110" y2="935.5" stroke="#9a7a60" stroke-width="0.9" stroke-opacity="0.35"/>
<line x1="980" y1="891.8" x2="1100" y2="935.5" stroke="#9a7a60" stroke-width="0.9" stroke-opacity="0.35"/>
<line x1="1010" y1="891.8" x2="1090" y2="935.5" stroke="#9a7a60" stroke-width="0.9" stroke-opacity="0.35"/>
<line x1="1040" y1="891.8" x2="1075" y2="935.5" stroke="#9a7a60" stroke-width="0.9" stroke-opacity="0.35"/>
<line x1="1070" y1="891.8" x2="1060" y2="935.5" stroke="#9a7a60" stroke-width="0.9" stroke-opacity="0.35"/>
<line x1="1090" y1="891.8" x2="1050" y2="935.5" stroke="#9a7a60" stroke-width="0.9" stroke-opacity="0.35"/>
<line x1="1100" y1="891.8" x2="1040" y2="935.5" stroke="#9a7a60" stroke-width="0.9" stroke-opacity="0.35"/>
<line x1="1060" y1="891.8" x2="1110" y2="935.5" stroke="#9a7a60" stroke-width="0.9" stroke-opacity="0.35"/>
<line x1="1000" y1="891.8" x2="1060" y2="935.5" stroke="#9a7a60" stroke-width="0.9" stroke-opacity="0.35"/>
<line x1="600" y1="891.8" x2="900" y2="935.5" stroke="#8b5a2b" stroke-width="0.7" stroke-opacity="0.15"/>
<line x1="650" y1="891.8" x2="1000" y2="935.5" stroke="#8b5a2b" stroke-width="0.7" stroke-opacity="0.15"/>
<line x1="800" y1="891.8" x2="1150" y2="935.5" stroke="#8b5a2b" stroke-width="0.7" stroke-opacity="0.15"/>
<line x1="880" y1="891.8" x2="1200" y2="935.5" stroke="#8b5a2b" stroke-width="0.7" stroke-opacity="0.15"/>
<line x1="1150" y1="891.8" x2="900" y2="935.5" stroke="#8b5a2b" stroke-width="0.7" stroke-opacity="0.15"/>
<line x1="1200" y1="891.8" x2="980" y2="935.5" stroke="#8b5a2b" stroke-width="0.7" stroke-opacity="0.15"/>
<line x1="1240" y1="891.8" x2="1050" y2="935.5" stroke="#8b5a2b" stroke-width="0.7" stroke-opacity="0.15"/>
<line x1="830" y1="891.8" x2="700" y2="935.5" stroke="#8b5a2b" stroke-width="0.7" stroke-opacity="0.15"/>
<line x1="900" y1="891.8" x2="760" y2="935.5" stroke="#8b5a2b" stroke-width="0.7" stroke-opacity="0.15"/>
<line x1="139" y1="962.8" x2="316" y2="1006.5" stroke="#8b5a2b" stroke-width="1.4" stroke-opacity="0.7"/>
<line x1="352.7" y1="962.8" x2="389" y2="1006.5" stroke="#c0a090" stroke-width="1.0" stroke-opacity="0.5"/>
<line x1="493.6" y1="962.8" x2="425.5" y2="1006.5" stroke="#c0a090" stroke-width="1.0" stroke-opacity="0.5"/>
<line x1="1254" y1="962.8" x2="520" y2="1006.5" stroke="#8b5a2b" stroke-width="1.0" stroke-opacity="0.5"/>
<line x1="1200" y1="962.8" x2="540" y2="1006.5" stroke="#8b5a2b" stroke-width="1.0" stroke-opacity="0.45"/>
<line x1="1150" y1="962.8" x2="560" y2="1006.5" stroke="#8b5a2b" stroke-width="1.0" stroke-opacity="0.4"/>
<line x1="1285" y1="962.8" x2="500" y2="1006.5" stroke="#8b5a2b" stroke-width="1.0" stroke-opacity="0.45"/>
<line x1="1100" y1="962.8" x2="600" y2="1006.5" stroke="#8b5a2b" stroke-width="1.0" stroke-opacity="0.3"/>
<line x1="1050" y1="962.8" x2="640" y2="1006.5" stroke="#8b5a2b" stroke-width="1.0" stroke-opacity="0.3"/>
<line x1="980" y1="962.8" x2="700" y2="1006.5" stroke="#8b5a2b" stroke-width="1.0" stroke-opacity="0.25"/>
<line x1="300" y1="962.8" x2="500" y2="1006.5" stroke="#8b5a2b" stroke-width="0.7" stroke-opacity="0.13"/>
<line x1="560" y1="962.8" x2="800" y2="1006.5" stroke="#8b5a2b" stroke-width="0.7" stroke-opacity="0.13"/>
<line x1="650" y1="962.8" x2="900" y2="1006.5" stroke="#8b5a2b" stroke-width="0.7" stroke-opacity="0.13"/>
<line x1="700" y1="962.8" x2="1000" y2="1006.5" stroke="#8b5a2b" stroke-width="0.7" stroke-opacity="0.13"/>
<line x1="850" y1="962.8" x2="1050" y2="1006.5" stroke="#8b5a2b" stroke-width="0.7" stroke-opacity="0.13"/>
<line x1="400" y1="962.8" x2="700" y2="1006.5" stroke="#8b5a2b" stroke-width="0.7" stroke-opacity="0.13"/>
<line x1="760" y1="962.8" x2="650" y2="1006.5" stroke="#8b5a2b" stroke-width="0.7" stroke-opacity="0.13"/>
</g>
<line x1="299" y1="662.2" x2="1125.8" y2="662.2" stroke="#000" stroke-width="3.6"/>
<path d="M318.7,655.2 L316.2,655.2 L316.2,648.6 L299.6,662.2 L316.2,675.8 L316.2,669.2 L318.7,669.2 Z" fill="#eb9b1c" stroke="#1a1a1a" stroke-width="0.9" stroke-linejoin="miter"/>
<path d="M335.6,648.6 L321.0,662.2 L335.6,675.8 Z" fill="#c9c9c9" stroke="#1a1a1a" stroke-width="0.9" stroke-linejoin="miter"/>
<path d="M348.0,648.6 L336.2,662.2 L348.0,675.8 Z" fill="#c9c9c9" stroke="#1a1a1a" stroke-width="0.9" stroke-linejoin="miter"/>
<path d="M365.3,648.6 L348.9,662.2 L365.3,675.8 Z" fill="#c9c9c9" stroke="#1a1a1a" stroke-width="0.9" stroke-linejoin="miter"/>
<path d="M410.8,655.2 L382.4,655.2 L382.4,648.6 L365.8,662.2 L382.4,675.8 L382.4,669.2 L410.8,669.2 Z" fill="#c9c9c9" stroke="#1a1a1a" stroke-width="0.9" stroke-linejoin="miter"/>
<path d="M424.5,648.6 L411.4,662.2 L424.5,675.8 Z" fill="#c9c9c9" stroke="#1a1a1a" stroke-width="0.9" stroke-linejoin="miter"/>
<path d="M430.0,648.6 L425.0,662.2 L430.0,675.8 Z" fill="#c9c9c9" stroke="#1a1a1a" stroke-width="0.9" stroke-linejoin="miter"/>
<path d="M487.4,655.2 L446.6,655.2 L446.6,648.6 L430.0,662.2 L446.6,675.8 L446.6,669.2 L487.4,669.2 Z" fill="#c9c9c9" stroke="#1a1a1a" stroke-width="0.9" stroke-linejoin="miter"/>
<path d="M509.5,655.2 L503.5,655.2 L503.5,648.6 L486.9,662.2 L503.5,675.8 L503.5,669.2 L509.5,669.2 Z" fill="#eb9b1c" stroke="#1a1a1a" stroke-width="0.9" stroke-linejoin="miter"/>
<path d="M518.7,648.6 L510.0,662.2 L518.7,675.8 Z" fill="#c9c9c9" stroke="#1a1a1a" stroke-width="0.9" stroke-linejoin="miter"/>
<path d="M532.0,648.6 L518.7,662.2 L532.0,675.8 Z" fill="#c9c9c9" stroke="#1a1a1a" stroke-width="0.9" stroke-linejoin="miter"/>
<path d="M557.5,655.2 L548.6,655.2 L548.6,648.6 L532.0,662.2 L548.6,675.8 L548.6,669.2 L557.5,669.2 Z" fill="#c9c9c9" stroke="#1a1a1a" stroke-width="0.9" stroke-linejoin="miter"/>
<path d="M578.7,655.2 L574.9,655.2 L574.9,648.6 L558.3,662.2 L574.9,675.8 L574.9,669.2 L578.7,669.2 Z" fill="#a6c80c" stroke="#1a1a1a" stroke-width="0.9" stroke-linejoin="miter"/>
<path d="M587.7,648.6 L578.7,662.2 L587.7,675.8 Z" fill="#c9c9c9" stroke="#1a1a1a" stroke-width="0.9" stroke-linejoin="miter"/>
<path d="M659.2,655.2 L604.9,655.2 L604.9,648.6 L588.3,662.2 L604.9,675.8 L604.9,669.2 L659.2,669.2 Z" fill="#a6c80c" stroke="#1a1a1a" stroke-width="0.9" stroke-linejoin="miter"/>
<path d="M663.3,648.6 L659.2,662.2 L663.3,675.8 Z" fill="#c9c9c9" stroke="#1a1a1a" stroke-width="0.9" stroke-linejoin="miter"/>
<path d="M678.7,648.6 L663.3,662.2 L678.7,675.8 Z" fill="#c9c9c9" stroke="#1a1a1a" stroke-width="0.9" stroke-linejoin="miter"/>
<path d="M688.3,648.6 L679.2,662.2 L688.3,675.8 Z" fill="#c9c9c9" stroke="#1a1a1a" stroke-width="0.9" stroke-linejoin="miter"/>
<path d="M711.7,655.2 L704.6,655.2 L704.6,648.6 L688.0,662.2 L704.6,675.8 L704.6,669.2 L711.7,669.2 Z" fill="#c9c9c9" stroke="#1a1a1a" stroke-width="0.9" stroke-linejoin="miter"/>
<path d="M717.5,648.6 L711.7,662.2 L717.5,675.8 Z" fill="#c9c9c9" stroke="#1a1a1a" stroke-width="0.9" stroke-linejoin="miter"/>
<path d="M729.7,648.6 L717.5,662.2 L729.7,675.8 Z" fill="#c9c9c9" stroke="#1a1a1a" stroke-width="0.9" stroke-linejoin="miter"/>
<path d="M738.7,648.6 L729.7,662.2 L738.7,675.8 Z" fill="#c9c9c9" stroke="#1a1a1a" stroke-width="0.9" stroke-linejoin="miter"/>
<path d="M745.5,648.6 L738.7,662.2 L745.5,675.8 Z" fill="#c9c9c9" stroke="#1a1a1a" stroke-width="0.9" stroke-linejoin="miter"/>
<path d="M757.0,648.6 L745.5,662.2 L757.0,675.8 Z" fill="#c9c9c9" stroke="#1a1a1a" stroke-width="0.9" stroke-linejoin="miter"/>
<path d="M766.7,648.6 L758.3,662.2 L766.7,675.8 Z" fill="#a6c80c" stroke="#1a1a1a" stroke-width="0.9" stroke-linejoin="miter"/>
<path d="M791.7,655.2 L783.3,655.2 L783.3,648.6 L766.7,662.2 L783.3,675.8 L783.3,669.2 L791.7,669.2 Z" fill="#c9c9c9" stroke="#1a1a1a" stroke-width="0.9" stroke-linejoin="miter"/>
<path d="M813.3,655.2 L808.6,655.2 L808.6,648.6 L792.0,662.2 L808.6,675.8 L808.6,669.2 L813.3,669.2 Z" fill="#c9c9c9" stroke="#1a1a1a" stroke-width="0.9" stroke-linejoin="miter"/>
<path d="M823.0,648.6 L828.2,662.2 L823.0,675.8 Z" fill="#c9c9c9" stroke="#1a1a1a" stroke-width="0.9" stroke-linejoin="miter"/>
<path d="M831.5,648.6 L827.6,662.2 L831.5,675.8 Z" fill="#c9c9c9" stroke="#1a1a1a" stroke-width="0.9" stroke-linejoin="miter"/>
<path d="M862.8,655.2 L849.1,655.2 L849.1,648.6 L832.5,662.2 L849.1,675.8 L849.1,669.2 L862.8,669.2 Z" fill="#eb9b1c" stroke="#1a1a1a" stroke-width="0.9" stroke-linejoin="miter"/>
<path d="M888.3,655.2 L879.9,655.2 L879.9,648.6 L863.3,662.2 L879.9,675.8 L879.9,669.2 L888.3,669.2 Z" fill="#eb9b1c" stroke="#1a1a1a" stroke-width="0.9" stroke-linejoin="miter"/>
<path d="M914.2,655.2 L905.8,655.2 L905.8,648.6 L889.2,662.2 L905.8,675.8 L905.8,669.2 L914.2,669.2 Z" fill="#eb9b1c" stroke="#1a1a1a" stroke-width="0.9" stroke-linejoin="miter"/>
<path d="M924.7,648.6 L914.7,662.2 L924.7,675.8 Z" fill="#c9c9c9" stroke="#1a1a1a" stroke-width="0.9" stroke-linejoin="miter"/>
<path d="M939.2,648.6 L933.7,662.2 L939.2,675.8 Z" fill="#c9c9c9" stroke="#1a1a1a" stroke-width="0.9" stroke-linejoin="miter"/>
<path d="M940.3,648.6 L938.3,662.2 L940.3,675.8 Z" fill="#c9c9c9" stroke="#1a1a1a" stroke-width="0.9" stroke-linejoin="miter"/>
<rect x="942.7" y="648.6" width="1.9" height="27.2" fill="#8c1c1c" stroke="#111" stroke-width="0.8"/>
<path d="M995.8,655.2 L979.1,655.2 L979.1,648.6 L962.5,662.2 L979.1,675.8 L979.1,669.2 L995.8,669.2 Z" fill="#c9c9c9" stroke="#1a1a1a" stroke-width="0.9" stroke-linejoin="miter"/>
<path d="M1000.3,648.6 L996.2,662.2 L1000.3,675.8 Z" fill="#c9c9c9" stroke="#1a1a1a" stroke-width="0.9" stroke-linejoin="miter"/>
<path d="M1015.3,648.6 L1000.8,662.2 L1015.3,675.8 Z" fill="#a6c80c" stroke="#1a1a1a" stroke-width="0.9" stroke-linejoin="miter"/>
<path d="M1027.0,648.6 L1020.8,662.2 L1027.0,675.8 Z" fill="#c9c9c9" stroke="#1a1a1a" stroke-width="0.9" stroke-linejoin="miter"/>
<path d="M1032.0,648.6 L1027.0,662.2 L1032.0,675.8 Z" fill="#c9c9c9" stroke="#1a1a1a" stroke-width="0.9" stroke-linejoin="miter"/>
<path d="M1036.7,648.6 L1031.7,662.2 L1036.7,675.8 Z" fill="#c9c9c9" stroke="#1a1a1a" stroke-width="0.9" stroke-linejoin="miter"/>
<path d="M1046.7,648.6 L1040.0,662.2 L1046.7,675.8 Z" fill="#c9c9c9" stroke="#1a1a1a" stroke-width="0.9" stroke-linejoin="miter"/>
<path d="M1050.0,648.6 L1046.7,662.2 L1050.0,675.8 Z" fill="#c9c9c9" stroke="#1a1a1a" stroke-width="0.9" stroke-linejoin="miter"/>
<path d="M1054.2,648.6 L1050.0,662.2 L1054.2,675.8 Z" fill="#c9c9c9" stroke="#1a1a1a" stroke-width="0.9" stroke-linejoin="miter"/>
<path d="M1057.5,648.6 L1053.3,662.2 L1057.5,675.8 Z" fill="#c9c9c9" stroke="#1a1a1a" stroke-width="0.9" stroke-linejoin="miter"/>
<path d="M1062.8,648.6 L1056.7,662.2 L1062.8,675.8 Z" fill="#c9c9c9" stroke="#1a1a1a" stroke-width="0.9" stroke-linejoin="miter"/>
<path d="M1070.8,648.6 L1062.8,662.2 L1070.8,675.8 Z" fill="#c9c9c9" stroke="#1a1a1a" stroke-width="0.9" stroke-linejoin="miter"/>
<path d="M1078.7,648.6 L1072.5,662.2 L1078.7,675.8 Z" fill="#c9c9c9" stroke="#1a1a1a" stroke-width="0.9" stroke-linejoin="miter"/>
<path d="M1095.3,648.6 L1083.0,662.2 L1095.3,675.8 Z" fill="#a6c80c" stroke="#1a1a1a" stroke-width="0.9" stroke-linejoin="miter"/>
<path d="M1103.0,648.6 L1095.8,662.2 L1103.0,675.8 Z" fill="#c9c9c9" stroke="#1a1a1a" stroke-width="0.9" stroke-linejoin="miter"/>
<path d="M1108.3,648.6 L1103.0,662.2 L1108.3,675.8 Z" fill="#c9c9c9" stroke="#1a1a1a" stroke-width="0.9" stroke-linejoin="miter"/>
<path d="M1113.3,648.6 L1108.3,662.2 L1113.3,675.8 Z" fill="#c9c9c9" stroke="#1a1a1a" stroke-width="0.9" stroke-linejoin="miter"/>
<path d="M1117.0,648.6 L1113.3,662.2 L1117.0,675.8 Z" fill="#c9c9c9" stroke="#1a1a1a" stroke-width="0.9" stroke-linejoin="miter"/>
<path d="M1119.2,648.6 L1117.0,662.2 L1119.2,675.8 Z" fill="#c9c9c9" stroke="#1a1a1a" stroke-width="0.9" stroke-linejoin="miter"/>
<path d="M1120.8,648.6 L1119.2,662.2 L1120.8,675.8 Z" fill="#c9c9c9" stroke="#1a1a1a" stroke-width="0.9" stroke-linejoin="miter"/>
<path d="M1121.7,648.6 L1125.3,662.2 L1121.7,675.8 Z" fill="#2fb7bc" stroke="#1a1a1a" stroke-width="0.9" stroke-linejoin="miter"/>
<line x1="323.7" y1="733.7" x2="1100.3" y2="733.7" stroke="#000" stroke-width="3.6"/>
<path d="M325.8,720.1 L337.0,733.7 L325.8,747.3 Z" fill="#c9c9c9" stroke="#1a1a1a" stroke-width="0.9" stroke-linejoin="miter"/>
<path d="M337.0,720.1 L343.3,733.7 L337.0,747.3 Z" fill="#c9c9c9" stroke="#1a1a1a" stroke-width="0.9" stroke-linejoin="miter"/>
<path d="M343.8,720.1 L348.3,733.7 L343.8,747.3 Z" fill="#c9c9c9" stroke="#1a1a1a" stroke-width="0.9" stroke-linejoin="miter"/>
<path d="M368.0,720.1 L374.7,733.7 L368.0,747.3 Z" fill="#a6c80c" stroke="#1a1a1a" stroke-width="0.9" stroke-linejoin="miter"/>
<path d="M374.7,720.1 L387.5,733.7 L374.7,747.3 Z" fill="#c9c9c9" stroke="#1a1a1a" stroke-width="0.9" stroke-linejoin="miter"/>
<path d="M388.3,726.7 L391.4,726.7 L391.4,720.1 L408.0,733.7 L391.4,747.3 L391.4,740.7 L388.3,740.7 Z" fill="#eb9b1c" stroke="#1a1a1a" stroke-width="0.9" stroke-linejoin="miter"/>
<path d="M414.2,720.1 L421.7,733.7 L414.2,747.3 Z" fill="#c9c9c9" stroke="#1a1a1a" stroke-width="0.9" stroke-linejoin="miter"/>
<path d="M422.0,720.1 L430.8,733.7 L422.0,747.3 Z" fill="#c9c9c9" stroke="#1a1a1a" stroke-width="0.9" stroke-linejoin="miter"/>
<path d="M430.8,720.1 L440.0,733.7 L430.8,747.3 Z" fill="#c9c9c9" stroke="#1a1a1a" stroke-width="0.9" stroke-linejoin="miter"/>
<path d="M440.3,726.7 L448.1,726.7 L448.1,720.1 L464.7,733.7 L448.1,747.3 L448.1,740.7 L440.3,740.7 Z" fill="#c9c9c9" stroke="#1a1a1a" stroke-width="0.9" stroke-linejoin="miter"/>
<path d="M466.2,720.1 L475.0,733.7 L466.2,747.3 Z" fill="#c9c9c9" stroke="#1a1a1a" stroke-width="0.9" stroke-linejoin="miter"/>
<path d="M475.0,720.1 L479.7,733.7 L475.0,747.3 Z" fill="#c9c9c9" stroke="#1a1a1a" stroke-width="0.9" stroke-linejoin="miter"/>
<path d="M479.7,726.7 L556.4,726.7 L556.4,720.1 L573.0,733.7 L556.4,747.3 L556.4,740.7 L479.7,740.7 Z" fill="#c9c9c9" stroke="#1a1a1a" stroke-width="0.9" stroke-linejoin="miter"/>
<path d="M573.3,720.1 L588.0,733.7 L573.3,747.3 Z" fill="#c9c9c9" stroke="#1a1a1a" stroke-width="0.9" stroke-linejoin="miter"/>
<path d="M587.5,726.7 L627.6,726.7 L627.6,720.1 L644.2,733.7 L627.6,747.3 L627.6,740.7 L587.5,740.7 Z" fill="#eb9b1c" stroke="#1a1a1a" stroke-width="0.9" stroke-linejoin="miter"/>
<path d="M644.7,726.7 L678.4,726.7 L678.4,720.1 L695.0,733.7 L678.4,747.3 L678.4,740.7 L644.7,740.7 Z" fill="#c9c9c9" stroke="#1a1a1a" stroke-width="0.9" stroke-linejoin="miter"/>
<path d="M695.3,726.7 L706.7,726.7 L706.7,720.1 L723.3,733.7 L706.7,747.3 L706.7,740.7 L695.3,740.7 Z" fill="#c9c9c9" stroke="#1a1a1a" stroke-width="0.9" stroke-linejoin="miter"/>
<path d="M723.7,720.1 L735.8,733.7 L723.7,747.3 Z" fill="#c9c9c9" stroke="#1a1a1a" stroke-width="0.9" stroke-linejoin="miter"/>
<path d="M736.3,720.1 L738.3,733.7 L736.3,747.3 Z" fill="#c9c9c9" stroke="#1a1a1a" stroke-width="0.9" stroke-linejoin="miter"/>
<path d="M739.2,720.1 L755.0,733.7 L739.2,747.3 Z" fill="#c67bb6" stroke="#1a1a1a" stroke-width="0.9" stroke-linejoin="miter"/>
<path d="M765.0,720.1 L771.7,733.7 L765.0,747.3 Z" fill="#c9c9c9" stroke="#1a1a1a" stroke-width="0.9" stroke-linejoin="miter"/>
<path d="M775.3,726.7 L781.7,726.7 L781.7,720.1 L798.3,733.7 L781.7,747.3 L781.7,740.7 L775.3,740.7 Z" fill="#ec6877" stroke="#1a1a1a" stroke-width="0.9" stroke-linejoin="miter"/>
<path d="M799.7,720.1 L806.7,733.7 L799.7,747.3 Z" fill="#c9c9c9" stroke="#1a1a1a" stroke-width="0.9" stroke-linejoin="miter"/>
<path d="M805.3,720.1 L813.3,733.7 L805.3,747.3 Z" fill="#c9c9c9" stroke="#1a1a1a" stroke-width="0.9" stroke-linejoin="miter"/>
<path d="M820.8,720.1 L813.3,733.7 L820.8,747.3 Z" fill="#c9c9c9" stroke="#1a1a1a" stroke-width="0.9" stroke-linejoin="miter"/>
<path d="M834.7,720.1 L850.3,733.7 L834.7,747.3 Z" fill="#c9c9c9" stroke="#1a1a1a" stroke-width="0.9" stroke-linejoin="miter"/>
<path d="M851.3,720.1 L857.5,733.7 L851.3,747.3 Z" fill="#c9c9c9" stroke="#1a1a1a" stroke-width="0.9" stroke-linejoin="miter"/>
<path d="M858.0,720.1 L867.0,733.7 L858.0,747.3 Z" fill="#c9c9c9" stroke="#1a1a1a" stroke-width="0.9" stroke-linejoin="miter"/>
<path d="M870.8,720.1 L886.7,733.7 L870.8,747.3 Z" fill="#a6c80c" stroke="#1a1a1a" stroke-width="0.9" stroke-linejoin="miter"/>
<path d="M893.3,733.7 L894.5,720.1 L895.8,733.7 L894.5,747.3 Z" fill="#2fb7bc" stroke="#1a1a1a" stroke-width="0.9" stroke-linejoin="miter"/>
<path d="M898.7,720.1 L900.8,733.7 L898.7,747.3 Z" fill="#c9c9c9" stroke="#1a1a1a" stroke-width="0.9" stroke-linejoin="miter"/>
<path d="M900.0,720.1 L905.8,733.7 L900.0,747.3 Z" fill="#c9c9c9" stroke="#1a1a1a" stroke-width="0.9" stroke-linejoin="miter"/>
<path d="M905.8,720.1 L911.7,733.7 L905.8,747.3 Z" fill="#c9c9c9" stroke="#1a1a1a" stroke-width="0.9" stroke-linejoin="miter"/>
<path d="M911.3,720.1 L915.0,733.7 L911.3,747.3 Z" fill="#c9c9c9" stroke="#1a1a1a" stroke-width="0.9" stroke-linejoin="miter"/>
<path d="M914.2,720.1 L921.7,733.7 L914.2,747.3 Z" fill="#c9c9c9" stroke="#1a1a1a" stroke-width="0.9" stroke-linejoin="miter"/>
<path d="M922.0,720.1 L935.0,733.7 L922.0,747.3 Z" fill="#a6c80c" stroke="#1a1a1a" stroke-width="0.9" stroke-linejoin="miter"/>
<path d="M939.2,720.1 L945.8,733.7 L939.2,747.3 Z" fill="#c9c9c9" stroke="#1a1a1a" stroke-width="0.9" stroke-linejoin="miter"/>
<path d="M946.3,720.1 L955.0,733.7 L946.3,747.3 Z" fill="#c9c9c9" stroke="#1a1a1a" stroke-width="0.9" stroke-linejoin="miter"/>
<path d="M955.3,720.1 L958.3,733.7 L955.3,747.3 Z" fill="#c9c9c9" stroke="#1a1a1a" stroke-width="0.9" stroke-linejoin="miter"/>
<path d="M957.5,720.1 L962.0,733.7 L957.5,747.3 Z" fill="#c9c9c9" stroke="#1a1a1a" stroke-width="0.9" stroke-linejoin="miter"/>
<path d="M965.0,720.1 L970.0,733.7 L965.0,747.3 Z" fill="#c9c9c9" stroke="#1a1a1a" stroke-width="0.9" stroke-linejoin="miter"/>
<path d="M970.0,720.1 L975.0,733.7 L970.0,747.3 Z" fill="#c9c9c9" stroke="#1a1a1a" stroke-width="0.9" stroke-linejoin="miter"/>
<path d="M975.3,720.1 L980.8,733.7 L975.3,747.3 Z" fill="#c9c9c9" stroke="#1a1a1a" stroke-width="0.9" stroke-linejoin="miter"/>
<path d="M980.8,720.1 L986.7,733.7 L980.8,747.3 Z" fill="#c9c9c9" stroke="#1a1a1a" stroke-width="0.9" stroke-linejoin="miter"/>
<rect x="999.7" y="720.1" width="2.3" height="27.2" fill="#8c1c1c" stroke="#111" stroke-width="0.8"/>
<path d="M1003.0,720.1 L1005.8,733.7 L1003.0,747.3 Z" fill="#c9c9c9" stroke="#1a1a1a" stroke-width="0.9" stroke-linejoin="miter"/>
<path d="M1005.3,720.1 L1011.7,733.7 L1005.3,747.3 Z" fill="#c9c9c9" stroke="#1a1a1a" stroke-width="0.9" stroke-linejoin="miter"/>
<path d="M1014.2,720.1 L1026.3,733.7 L1014.2,747.3 Z" fill="#c9c9c9" stroke="#1a1a1a" stroke-width="0.9" stroke-linejoin="miter"/>
<path d="M1026.7,726.7 L1035.9,726.7 L1035.9,720.1 L1052.5,733.7 L1035.9,747.3 L1035.9,740.7 L1026.7,740.7 Z" fill="#eb9b1c" stroke="#1a1a1a" stroke-width="0.9" stroke-linejoin="miter"/>
<path d="M1053.3,726.7 L1063.4,726.7 L1063.4,720.1 L1080.0,733.7 L1063.4,747.3 L1063.4,740.7 L1053.3,740.7 Z" fill="#eb9b1c" stroke="#1a1a1a" stroke-width="0.9" stroke-linejoin="miter"/>
<line x1="245" y1="804.8" x2="1179" y2="804.8" stroke="#000" stroke-width="3.6"/>
<path d="M253.0,791.2 L245.3,804.8 L253.0,818.4 Z" fill="#c9c9c9" stroke="#1a1a1a" stroke-width="0.9" stroke-linejoin="miter"/>
<path d="M253.3,797.8 L258.7,797.8 L258.7,791.2 L275.3,804.8 L258.7,818.4 L258.7,811.8 L253.3,811.8 Z" fill="#ec6877" stroke="#1a1a1a" stroke-width="0.9" stroke-linejoin="miter"/>
<path d="M285.3,804.8 L286.8,791.2 L288.3,804.8 L286.8,818.4 Z" fill="#2fb7bc" stroke="#1a1a1a" stroke-width="0.9" stroke-linejoin="miter"/>
<path d="M288.7,791.2 L293.0,804.8 L288.7,818.4 Z" fill="#c9c9c9" stroke="#1a1a1a" stroke-width="0.9" stroke-linejoin="miter"/>
<path d="M290.8,791.2 L297.5,804.8 L290.8,818.4 Z" fill="#c9c9c9" stroke="#1a1a1a" stroke-width="0.9" stroke-linejoin="miter"/>
<path d="M295.0,791.2 L300.8,804.8 L295.0,818.4 Z" fill="#c9c9c9" stroke="#1a1a1a" stroke-width="0.9" stroke-linejoin="miter"/>
<path d="M300.0,791.2 L303.7,804.8 L300.0,818.4 Z" fill="#c9c9c9" stroke="#1a1a1a" stroke-width="0.9" stroke-linejoin="miter"/>
<path d="M303.0,791.2 L305.8,804.8 L303.0,818.4 Z" fill="#c9c9c9" stroke="#1a1a1a" stroke-width="0.9" stroke-linejoin="miter"/>
<path d="M305.8,791.2 L311.3,804.8 L305.8,818.4 Z" fill="#c9c9c9" stroke="#1a1a1a" stroke-width="0.9" stroke-linejoin="miter"/>
<path d="M315.8,791.2 L322.0,804.8 L315.8,818.4 Z" fill="#c9c9c9" stroke="#1a1a1a" stroke-width="0.9" stroke-linejoin="miter"/>
<path d="M322.0,791.2 L328.3,804.8 L322.0,818.4 Z" fill="#c9c9c9" stroke="#1a1a1a" stroke-width="0.9" stroke-linejoin="miter"/>
<path d="M328.3,791.2 L339.2,804.8 L328.3,818.4 Z" fill="#c9c9c9" stroke="#1a1a1a" stroke-width="0.9" stroke-linejoin="miter"/>
<path d="M339.2,791.2 L349.2,804.8 L339.2,818.4 Z" fill="#c9c9c9" stroke="#1a1a1a" stroke-width="0.9" stroke-linejoin="miter"/>
<path d="M349.2,797.8 L371.7,797.8 L371.7,791.2 L388.3,804.8 L371.7,818.4 L371.7,811.8 L349.2,811.8 Z" fill="#c9c9c9" stroke="#1a1a1a" stroke-width="0.9" stroke-linejoin="miter"/>
<path d="M393.7,791.2 L399.2,804.8 L393.7,818.4 Z" fill="#c9c9c9" stroke="#1a1a1a" stroke-width="0.9" stroke-linejoin="miter"/>
<path d="M400.3,791.2 L405.0,804.8 L400.3,818.4 Z" fill="#c9c9c9" stroke="#1a1a1a" stroke-width="0.9" stroke-linejoin="miter"/>
<path d="M405.0,791.2 L412.5,804.8 L405.0,818.4 Z" fill="#c9c9c9" stroke="#1a1a1a" stroke-width="0.9" stroke-linejoin="miter"/>
<path d="M414.7,791.2 L420.8,804.8 L414.7,818.4 Z" fill="#c9c9c9" stroke="#1a1a1a" stroke-width="0.9" stroke-linejoin="miter"/>
<path d="M420.8,791.2 L429.2,804.8 L420.8,818.4 Z" fill="#c9c9c9" stroke="#1a1a1a" stroke-width="0.9" stroke-linejoin="miter"/>
<path d="M429.2,791.2 L433.3,804.8 L429.2,818.4 Z" fill="#c9c9c9" stroke="#1a1a1a" stroke-width="0.9" stroke-linejoin="miter"/>
<path d="M433.3,791.2 L445.3,804.8 L433.3,818.4 Z" fill="#c9c9c9" stroke="#1a1a1a" stroke-width="0.9" stroke-linejoin="miter"/>
<path d="M445.8,791.2 L449.2,804.8 L445.8,818.4 Z" fill="#c9c9c9" stroke="#1a1a1a" stroke-width="0.9" stroke-linejoin="miter"/>
<path d="M450.3,791.2 L465.0,804.8 L450.3,818.4 Z" fill="#c9c9c9" stroke="#1a1a1a" stroke-width="0.9" stroke-linejoin="miter"/>
<path d="M466.7,791.2 L474.2,804.8 L466.7,818.4 Z" fill="#c9c9c9" stroke="#1a1a1a" stroke-width="0.9" stroke-linejoin="miter"/>
<path d="M474.7,791.2 L481.7,804.8 L474.7,818.4 Z" fill="#c9c9c9" stroke="#1a1a1a" stroke-width="0.9" stroke-linejoin="miter"/>
<path d="M482.5,791.2 L490.0,804.8 L482.5,818.4 Z" fill="#a6c80c" stroke="#1a1a1a" stroke-width="0.9" stroke-linejoin="miter"/>
<path d="M490.0,791.2 L495.0,804.8 L490.0,818.4 Z" fill="#c9c9c9" stroke="#1a1a1a" stroke-width="0.9" stroke-linejoin="miter"/>
<path d="M494.7,791.2 L499.7,804.8 L494.7,818.4 Z" fill="#c9c9c9" stroke="#1a1a1a" stroke-width="0.9" stroke-linejoin="miter"/>
<path d="M500.0,791.2 L512.5,804.8 L500.0,818.4 Z" fill="#a6c80c" stroke="#1a1a1a" stroke-width="0.9" stroke-linejoin="miter"/>
<path d="M523.3,791.2 L528.3,804.8 L523.3,818.4 Z" fill="#c9c9c9" stroke="#1a1a1a" stroke-width="0.9" stroke-linejoin="miter"/>
<path d="M533.7,791.2 L545.8,804.8 L533.7,818.4 Z" fill="#a6c80c" stroke="#1a1a1a" stroke-width="0.9" stroke-linejoin="miter"/>
<path d="M545.3,791.2 L559.7,804.8 L545.3,818.4 Z" fill="#a6c80c" stroke="#1a1a1a" stroke-width="0.9" stroke-linejoin="miter"/>
<path d="M561.3,791.2 L570.0,804.8 L561.3,818.4 Z" fill="#c9c9c9" stroke="#1a1a1a" stroke-width="0.9" stroke-linejoin="miter"/>
<path d="M570.0,797.8 L600.9,797.8 L600.9,791.2 L617.5,804.8 L600.9,818.4 L600.9,811.8 L570.0,811.8 Z" fill="#a6c80c" stroke="#1a1a1a" stroke-width="0.9" stroke-linejoin="miter"/>
<path d="M618.0,797.8 L627.1,797.8 L627.1,791.2 L643.7,804.8 L627.1,818.4 L627.1,811.8 L618.0,811.8 Z" fill="#eb9b1c" stroke="#1a1a1a" stroke-width="0.9" stroke-linejoin="miter"/>
<path d="M644.2,791.2 L659.7,804.8 L644.2,818.4 Z" fill="#eb9b1c" stroke="#1a1a1a" stroke-width="0.9" stroke-linejoin="miter"/>
<path d="M664.2,797.8 L665.1,797.8 L665.1,791.2 L681.7,804.8 L665.1,818.4 L665.1,811.8 L664.2,811.8 Z" fill="#c9c9c9" stroke="#1a1a1a" stroke-width="0.9" stroke-linejoin="miter"/>
<path d="M682.0,797.8 L687.6,797.8 L687.6,791.2 L704.2,804.8 L687.6,818.4 L687.6,811.8 L682.0,811.8 Z" fill="#c9c9c9" stroke="#1a1a1a" stroke-width="0.9" stroke-linejoin="miter"/>
<path d="M704.7,791.2 L705.8,804.8 L704.7,818.4 Z" fill="#c9c9c9" stroke="#1a1a1a" stroke-width="0.9" stroke-linejoin="miter"/>
<path d="M706.3,791.2 L717.5,804.8 L706.3,818.4 Z" fill="#c9c9c9" stroke="#1a1a1a" stroke-width="0.9" stroke-linejoin="miter"/>
<path d="M717.5,791.2 L724.5,804.8 L717.5,818.4 Z" fill="#c9c9c9" stroke="#1a1a1a" stroke-width="0.9" stroke-linejoin="miter"/>
<path d="M724.7,791.2 L731.7,804.8 L724.7,818.4 Z" fill="#c9c9c9" stroke="#1a1a1a" stroke-width="0.9" stroke-linejoin="miter"/>
<path d="M732.0,791.2 L744.2,804.8 L732.0,818.4 Z" fill="#c9c9c9" stroke="#1a1a1a" stroke-width="0.9" stroke-linejoin="miter"/>
<path d="M744.7,791.2 L748.0,804.8 L744.7,818.4 Z" fill="#c9c9c9" stroke="#1a1a1a" stroke-width="0.9" stroke-linejoin="miter"/>
<path d="M748.0,797.8 L755.4,797.8 L755.4,791.2 L772.0,804.8 L755.4,818.4 L755.4,811.8 L748.0,811.8 Z" fill="#c9c9c9" stroke="#1a1a1a" stroke-width="0.9" stroke-linejoin="miter"/>
<path d="M772.5,791.2 L780.8,804.8 L772.5,818.4 Z" fill="#c9c9c9" stroke="#1a1a1a" stroke-width="0.9" stroke-linejoin="miter"/>
<path d="M781.7,791.2 L796.3,804.8 L781.7,818.4 Z" fill="#c9c9c9" stroke="#1a1a1a" stroke-width="0.9" stroke-linejoin="miter"/>
<path d="M796.7,791.2 L800.0,804.8 L796.7,818.4 Z" fill="#c9c9c9" stroke="#1a1a1a" stroke-width="0.9" stroke-linejoin="miter"/>
<path d="M800.0,797.8 L829.2,797.8 L829.2,791.2 L845.8,804.8 L829.2,818.4 L829.2,811.8 L800.0,811.8 Z" fill="#c9c9c9" stroke="#1a1a1a" stroke-width="0.9" stroke-linejoin="miter"/>
<path d="M846.3,791.2 L856.3,804.8 L846.3,818.4 Z" fill="#c9c9c9" stroke="#1a1a1a" stroke-width="0.9" stroke-linejoin="miter"/>
<path d="M856.3,797.8 L860.9,797.8 L860.9,791.2 L877.5,804.8 L860.9,818.4 L860.9,811.8 L856.3,811.8 Z" fill="#a6c80c" stroke="#1a1a1a" stroke-width="0.9" stroke-linejoin="miter"/>
<path d="M885.3,791.2 L877.5,804.8 L885.3,818.4 Z" fill="#c9c9c9" stroke="#1a1a1a" stroke-width="0.9" stroke-linejoin="miter"/>
<path d="M885.8,797.8 L894.7,797.8 L894.7,791.2 L911.3,804.8 L894.7,818.4 L894.7,811.8 L885.8,811.8 Z" fill="#c9c9c9" stroke="#1a1a1a" stroke-width="0.9" stroke-linejoin="miter"/>
<path d="M911.7,791.2 L924.7,804.8 L911.7,818.4 Z" fill="#c9c9c9" stroke="#1a1a1a" stroke-width="0.9" stroke-linejoin="miter"/>
<path d="M924.7,791.2 L933.0,804.8 L924.7,818.4 Z" fill="#c9c9c9" stroke="#1a1a1a" stroke-width="0.9" stroke-linejoin="miter"/>
<path d="M933.3,797.8 L938.7,797.8 L938.7,791.2 L955.3,804.8 L938.7,818.4 L938.7,811.8 L933.3,811.8 Z" fill="#c9c9c9" stroke="#1a1a1a" stroke-width="0.9" stroke-linejoin="miter"/>
<path d="M955.8,797.8 L988.4,797.8 L988.4,791.2 L1005.0,804.8 L988.4,818.4 L988.4,811.8 L955.8,811.8 Z" fill="#eb9b1c" stroke="#1a1a1a" stroke-width="0.9" stroke-linejoin="miter"/>
<path d="M1005.3,791.2 L1010.3,804.8 L1005.3,818.4 Z" fill="#c9c9c9" stroke="#1a1a1a" stroke-width="0.9" stroke-linejoin="miter"/>
<path d="M1010.3,791.2 L1023.3,804.8 L1010.3,818.4 Z" fill="#c9c9c9" stroke="#1a1a1a" stroke-width="0.9" stroke-linejoin="miter"/>
<path d="M1024.2,797.8 L1053.1,797.8 L1053.1,791.2 L1069.7,804.8 L1053.1,818.4 L1053.1,811.8 L1024.2,811.8 Z" fill="#c9c9c9" stroke="#1a1a1a" stroke-width="0.9" stroke-linejoin="miter"/>
<path d="M1070.3,791.2 L1086.3,804.8 L1070.3,818.4 Z" fill="#c9c9c9" stroke="#1a1a1a" stroke-width="0.9" stroke-linejoin="miter"/>
<path d="M1086.3,791.2 L1101.3,804.8 L1086.3,818.4 Z" fill="#c9c9c9" stroke="#1a1a1a" stroke-width="0.9" stroke-linejoin="miter"/>
<path d="M1102.0,797.8 L1103.4,797.8 L1103.4,791.2 L1120.0,804.8 L1103.4,818.4 L1103.4,811.8 L1102.0,811.8 Z" fill="#c9c9c9" stroke="#1a1a1a" stroke-width="0.9" stroke-linejoin="miter"/>
<path d="M1120.3,791.2 L1136.7,804.8 L1120.3,818.4 Z" fill="#eb9b1c" stroke="#1a1a1a" stroke-width="0.9" stroke-linejoin="miter"/>
<path d="M1138.0,797.8 L1138.7,797.8 L1138.7,791.2 L1155.3,804.8 L1138.7,818.4 L1138.7,811.8 L1138.0,811.8 Z" fill="#c9c9c9" stroke="#1a1a1a" stroke-width="0.9" stroke-linejoin="miter"/>
<path d="M1155.8,791.2 L1159.2,804.8 L1155.8,818.4 Z" fill="#c67bb6" stroke="#1a1a1a" stroke-width="0.9" stroke-linejoin="miter"/>
<path d="M1160.3,791.2 L1168.3,804.8 L1160.3,818.4 Z" fill="#c9c9c9" stroke="#1a1a1a" stroke-width="0.9" stroke-linejoin="miter"/>
<path d="M1168.3,791.2 L1178.7,804.8 L1168.3,818.4 Z" fill="#c9c9c9" stroke="#1a1a1a" stroke-width="0.9" stroke-linejoin="miter"/>
<line x1="178.3" y1="877.7" x2="1245.7" y2="877.7" stroke="#000" stroke-width="3.6"/>
<path d="M193.3,864.1 L180.3,877.7 L193.3,891.3 Z" fill="#c9c9c9" stroke="#1a1a1a" stroke-width="0.9" stroke-linejoin="miter"/>
<path d="M218.7,864.1 L202.5,877.7 L218.7,891.3 Z" fill="#c9c9c9" stroke="#1a1a1a" stroke-width="0.9" stroke-linejoin="miter"/>
<path d="M220.8,864.1 L225.8,877.7 L220.8,891.3 Z" fill="#c9c9c9" stroke="#1a1a1a" stroke-width="0.9" stroke-linejoin="miter"/>
<path d="M249.7,864.1 L254.2,877.7 L249.7,891.3 Z" fill="#c9c9c9" stroke="#1a1a1a" stroke-width="0.9" stroke-linejoin="miter"/>
<path d="M254.2,864.1 L259.7,877.7 L254.2,891.3 Z" fill="#c9c9c9" stroke="#1a1a1a" stroke-width="0.9" stroke-linejoin="miter"/>
<path d="M259.7,864.1 L269.2,877.7 L259.7,891.3 Z" fill="#c9c9c9" stroke="#1a1a1a" stroke-width="0.9" stroke-linejoin="miter"/>
<path d="M269.7,864.1 L271.3,877.7 L269.7,891.3 Z" fill="#c9c9c9" stroke="#1a1a1a" stroke-width="0.9" stroke-linejoin="miter"/>
<path d="M271.7,870.7 L277.1,870.7 L277.1,864.1 L293.7,877.7 L277.1,891.3 L277.1,884.7 L271.7,884.7 Z" fill="#eb9b1c" stroke="#1a1a1a" stroke-width="0.9" stroke-linejoin="miter"/>
<path d="M295.0,870.7 L301.7,870.7 L301.7,864.1 L318.3,877.7 L301.7,891.3 L301.7,884.7 L295.0,884.7 Z" fill="#c9c9c9" stroke="#1a1a1a" stroke-width="0.9" stroke-linejoin="miter"/>
<path d="M318.3,864.1 L332.5,877.7 L318.3,891.3 Z" fill="#c9c9c9" stroke="#1a1a1a" stroke-width="0.9" stroke-linejoin="miter"/>
<path d="M332.5,870.7 L333.1,870.7 L333.1,864.1 L349.7,877.7 L333.1,891.3 L333.1,884.7 L332.5,884.7 Z" fill="#c9c9c9" stroke="#1a1a1a" stroke-width="0.9" stroke-linejoin="miter"/>
<path d="M350.0,864.1 L360.3,877.7 L350.0,891.3 Z" fill="#c9c9c9" stroke="#1a1a1a" stroke-width="0.9" stroke-linejoin="miter"/>
<path d="M360.8,870.7 L361.4,870.7 L361.4,864.1 L378.0,877.7 L361.4,891.3 L361.4,884.7 L360.8,884.7 Z" fill="#c9c9c9" stroke="#1a1a1a" stroke-width="0.9" stroke-linejoin="miter"/>
<path d="M378.3,864.1 L382.5,877.7 L378.3,891.3 Z" fill="#c9c9c9" stroke="#1a1a1a" stroke-width="0.9" stroke-linejoin="miter"/>
<path d="M381.3,864.1 L386.7,877.7 L381.3,891.3 Z" fill="#c9c9c9" stroke="#1a1a1a" stroke-width="0.9" stroke-linejoin="miter"/>
<path d="M387.0,864.1 L403.0,877.7 L387.0,891.3 Z" fill="#c9c9c9" stroke="#1a1a1a" stroke-width="0.9" stroke-linejoin="miter"/>
<path d="M403.0,864.1 L411.7,877.7 L403.0,891.3 Z" fill="#c9c9c9" stroke="#1a1a1a" stroke-width="0.9" stroke-linejoin="miter"/>
<path d="M411.7,864.1 L415.8,877.7 L411.7,891.3 Z" fill="#c9c9c9" stroke="#1a1a1a" stroke-width="0.9" stroke-linejoin="miter"/>
<path d="M415.8,870.7 L422.1,870.7 L422.1,864.1 L438.7,877.7 L422.1,891.3 L422.1,884.7 L415.8,884.7 Z" fill="#c9c9c9" stroke="#1a1a1a" stroke-width="0.9" stroke-linejoin="miter"/>
<path d="M439.2,864.1 L450.0,877.7 L439.2,891.3 Z" fill="#c9c9c9" stroke="#1a1a1a" stroke-width="0.9" stroke-linejoin="miter"/>
<path d="M450.3,864.1 L457.0,877.7 L450.3,891.3 Z" fill="#c9c9c9" stroke="#1a1a1a" stroke-width="0.9" stroke-linejoin="miter"/>
<path d="M457.0,864.1 L465.3,877.7 L457.0,891.3 Z" fill="#c9c9c9" stroke="#1a1a1a" stroke-width="0.9" stroke-linejoin="miter"/>
<path d="M465.8,870.7 L563.4,870.7 L563.4,864.1 L580.0,877.7 L563.4,891.3 L563.4,884.7 L465.8,884.7 Z" fill="#c9c9c9" stroke="#1a1a1a" stroke-width="0.9" stroke-linejoin="miter"/>
<path d="M581.3,864.1 L591.3,877.7 L581.3,891.3 Z" fill="#c9c9c9" stroke="#1a1a1a" stroke-width="0.9" stroke-linejoin="miter"/>
<path d="M591.3,864.1 L600.0,877.7 L591.3,891.3 Z" fill="#c9c9c9" stroke="#1a1a1a" stroke-width="0.9" stroke-linejoin="miter"/>
<path d="M600.3,870.7 L664.2,870.7 L664.2,864.1 L680.8,877.7 L664.2,891.3 L664.2,884.7 L600.3,884.7 Z" fill="#a6c80c" stroke="#1a1a1a" stroke-width="0.9" stroke-linejoin="miter"/>
<path d="M681.3,870.7 L702.6,870.7 L702.6,864.1 L719.2,877.7 L702.6,891.3 L702.6,884.7 L681.3,884.7 Z" fill="#a6c80c" stroke="#1a1a1a" stroke-width="0.9" stroke-linejoin="miter"/>
<path d="M722.5,864.1 L738.0,877.7 L722.5,891.3 Z" fill="#c67bb6" stroke="#1a1a1a" stroke-width="0.9" stroke-linejoin="miter"/>
<path d="M741.3,864.1 L753.3,877.7 L741.3,891.3 Z" fill="#c9c9c9" stroke="#1a1a1a" stroke-width="0.9" stroke-linejoin="miter"/>
<path d="M754.2,870.7 L799.2,870.7 L799.2,864.1 L815.8,877.7 L799.2,891.3 L799.2,884.7 L754.2,884.7 Z" fill="#c9c9c9" stroke="#1a1a1a" stroke-width="0.9" stroke-linejoin="miter"/>
<path d="M816.3,870.7 L848.7,870.7 L848.7,864.1 L865.3,877.7 L848.7,891.3 L848.7,884.7 L816.3,884.7 Z" fill="#a6c80c" stroke="#1a1a1a" stroke-width="0.9" stroke-linejoin="miter"/>
<path d="M870.0,870.7 L876.7,870.7 L876.7,864.1 L893.3,877.7 L876.7,891.3 L876.7,884.7 L870.0,884.7 Z" fill="#c9c9c9" stroke="#1a1a1a" stroke-width="0.9" stroke-linejoin="miter"/>
<path d="M901.7,864.1 L893.3,877.7 L901.7,891.3 Z" fill="#c9c9c9" stroke="#1a1a1a" stroke-width="0.9" stroke-linejoin="miter"/>
<path d="M905.3,864.1 L901.7,877.7 L905.3,891.3 Z" fill="#c9c9c9" stroke="#1a1a1a" stroke-width="0.9" stroke-linejoin="miter"/>
<path d="M910.3,864.1 L904.7,877.7 L910.3,891.3 Z" fill="#c9c9c9" stroke="#1a1a1a" stroke-width="0.9" stroke-linejoin="miter"/>
<path d="M923.7,864.1 L910.8,877.7 L923.7,891.3 Z" fill="#c9c9c9" stroke="#1a1a1a" stroke-width="0.9" stroke-linejoin="miter"/>
<path d="M931.7,864.1 L923.7,877.7 L931.7,891.3 Z" fill="#c9c9c9" stroke="#1a1a1a" stroke-width="0.9" stroke-linejoin="miter"/>
<path d="M942.0,864.1 L931.7,877.7 L942.0,891.3 Z" fill="#c9c9c9" stroke="#1a1a1a" stroke-width="0.9" stroke-linejoin="miter"/>
<path d="M946.3,864.1 L942.0,877.7 L946.3,891.3 Z" fill="#a6c80c" stroke="#1a1a1a" stroke-width="0.9" stroke-linejoin="miter"/>
<rect x="946.3" y="864.1" width="2.4" height="27.2" fill="#8c1c1c" stroke="#111" stroke-width="0.8"/>
<path d="M955.8,864.1 L949.2,877.7 L955.8,891.3 Z" fill="#c9c9c9" stroke="#1a1a1a" stroke-width="0.9" stroke-linejoin="miter"/>
<path d="M960.0,864.1 L954.2,877.7 L960.0,891.3 Z" fill="#c9c9c9" stroke="#1a1a1a" stroke-width="0.9" stroke-linejoin="miter"/>
<path d="M975.3,864.1 L960.0,877.7 L975.3,891.3 Z" fill="#c9c9c9" stroke="#1a1a1a" stroke-width="0.9" stroke-linejoin="miter"/>
<path d="M988.3,864.1 L975.8,877.7 L988.3,891.3 Z" fill="#a6c80c" stroke="#1a1a1a" stroke-width="0.9" stroke-linejoin="miter"/>
<path d="M998.7,864.1 L988.3,877.7 L998.7,891.3 Z" fill="#c9c9c9" stroke="#1a1a1a" stroke-width="0.9" stroke-linejoin="miter"/>
<path d="M1002.5,864.1 L999.2,877.7 L1002.5,891.3 Z" fill="#a6c80c" stroke="#1a1a1a" stroke-width="0.9" stroke-linejoin="miter"/>
<path d="M1012.5,864.1 L1002.5,877.7 L1012.5,891.3 Z" fill="#c9c9c9" stroke="#1a1a1a" stroke-width="0.9" stroke-linejoin="miter"/>
<path d="M1017.5,864.1 L1012.5,877.7 L1017.5,891.3 Z" fill="#c9c9c9" stroke="#1a1a1a" stroke-width="0.9" stroke-linejoin="miter"/>
<path d="M1020.3,864.1 L1016.7,877.7 L1020.3,891.3 Z" fill="#c9c9c9" stroke="#1a1a1a" stroke-width="0.9" stroke-linejoin="miter"/>
<path d="M1028.3,864.1 L1020.3,877.7 L1028.3,891.3 Z" fill="#c9c9c9" stroke="#1a1a1a" stroke-width="0.9" stroke-linejoin="miter"/>
<path d="M1033.3,864.1 L1028.3,877.7 L1033.3,891.3 Z" fill="#c9c9c9" stroke="#1a1a1a" stroke-width="0.9" stroke-linejoin="miter"/>
<path d="M1038.3,864.1 L1033.3,877.7 L1038.3,891.3 Z" fill="#c9c9c9" stroke="#1a1a1a" stroke-width="0.9" stroke-linejoin="miter"/>
<path d="M1043.0,864.1 L1038.3,877.7 L1043.0,891.3 Z" fill="#c9c9c9" stroke="#1a1a1a" stroke-width="0.9" stroke-linejoin="miter"/>
<path d="M1053.0,864.1 L1043.0,877.7 L1053.0,891.3 Z" fill="#c9c9c9" stroke="#1a1a1a" stroke-width="0.9" stroke-linejoin="miter"/>
<path d="M1066.7,864.1 L1053.0,877.7 L1066.7,891.3 Z" fill="#c9c9c9" stroke="#1a1a1a" stroke-width="0.9" stroke-linejoin="miter"/>
<path d="M1075.8,864.1 L1066.7,877.7 L1075.8,891.3 Z" fill="#c9c9c9" stroke="#1a1a1a" stroke-width="0.9" stroke-linejoin="miter"/>
<path d="M1079.7,864.1 L1075.8,877.7 L1079.7,891.3 Z" fill="#c9c9c9" stroke="#1a1a1a" stroke-width="0.9" stroke-linejoin="miter"/>
<path d="M1093.7,864.1 L1079.7,877.7 L1093.7,891.3 Z" fill="#c9c9c9" stroke="#1a1a1a" stroke-width="0.9" stroke-linejoin="miter"/>
<path d="M1108.0,864.1 L1093.7,877.7 L1108.0,891.3 Z" fill="#a6c80c" stroke="#1a1a1a" stroke-width="0.9" stroke-linejoin="miter"/>
<path d="M1114.7,864.1 L1108.0,877.7 L1114.7,891.3 Z" fill="#c9c9c9" stroke="#1a1a1a" stroke-width="0.9" stroke-linejoin="miter"/>
<path d="M1117.5,864.1 L1114.2,877.7 L1117.5,891.3 Z" fill="#c9c9c9" stroke="#1a1a1a" stroke-width="0.9" stroke-linejoin="miter"/>
<path d="M1130.3,864.1 L1118.0,877.7 L1130.3,891.3 Z" fill="#c9c9c9" stroke="#1a1a1a" stroke-width="0.9" stroke-linejoin="miter"/>
<path d="M1149.7,870.7 L1147.4,870.7 L1147.4,864.1 L1130.8,877.7 L1147.4,891.3 L1147.4,884.7 L1149.7,884.7 Z" fill="#a6c80c" stroke="#1a1a1a" stroke-width="0.9" stroke-linejoin="miter"/>
<path d="M1185.5,870.7 L1166.3,870.7 L1166.3,864.1 L1149.7,877.7 L1166.3,891.3 L1166.3,884.7 L1185.5,884.7 Z" fill="#c9c9c9" stroke="#1a1a1a" stroke-width="0.9" stroke-linejoin="miter"/>
<path d="M1198.0,864.1 L1185.5,877.7 L1198.0,891.3 Z" fill="#c9c9c9" stroke="#1a1a1a" stroke-width="0.9" stroke-linejoin="miter"/>
<path d="M1206.7,864.1 L1200.1,877.7 L1206.7,891.3 Z" fill="#c9c9c9" stroke="#1a1a1a" stroke-width="0.9" stroke-linejoin="miter"/>
<path d="M1231.7,864.1 L1226.7,877.7 L1231.7,891.3 Z" fill="#c9c9c9" stroke="#1a1a1a" stroke-width="0.9" stroke-linejoin="miter"/>
<path d="M1236.7,864.1 L1231.7,877.7 L1236.7,891.3 Z" fill="#c9c9c9" stroke="#1a1a1a" stroke-width="0.9" stroke-linejoin="miter"/>
<path d="M1242.6,864.1 L1236.7,877.7 L1242.6,891.3 Z" fill="#c9c9c9" stroke="#1a1a1a" stroke-width="0.9" stroke-linejoin="miter"/>
<line x1="137.5" y1="948.6" x2="1286.5" y2="948.6" stroke="#000" stroke-width="3.6"/>
<path d="M227.5,941.6 L184.9,941.6 L184.9,935.0 L168.3,948.6 L184.9,962.2 L184.9,955.6 L227.5,955.6 Z" fill="#a6c80c" stroke="#1a1a1a" stroke-width="0.9" stroke-linejoin="miter"/>
<path d="M287.5,941.6 L244.6,941.6 L244.6,935.0 L228.0,948.6 L244.6,962.2 L244.6,955.6 L287.5,955.6 Z" fill="#c9c9c9" stroke="#1a1a1a" stroke-width="0.9" stroke-linejoin="miter"/>
<path d="M293.7,935.0 L287.5,948.6 L293.7,962.2 Z" fill="#c9c9c9" stroke="#1a1a1a" stroke-width="0.9" stroke-linejoin="miter"/>
<path d="M398.7,941.6 L310.8,941.6 L310.8,935.0 L294.2,948.6 L310.8,962.2 L310.8,955.6 L398.7,955.6 Z" fill="#a6c80c" stroke="#1a1a1a" stroke-width="0.9" stroke-linejoin="miter"/>
<path d="M409.7,935.0 L398.7,948.6 L409.7,962.2 Z" fill="#c9c9c9" stroke="#1a1a1a" stroke-width="0.9" stroke-linejoin="miter"/>
<path d="M544.7,941.6 L426.9,941.6 L426.9,935.0 L410.3,948.6 L426.9,962.2 L426.9,955.6 L544.7,955.6 Z" fill="#c9c9c9" stroke="#1a1a1a" stroke-width="0.9" stroke-linejoin="miter"/>
<path d="M554.2,935.0 L544.7,948.6 L554.2,962.2 Z" fill="#c9c9c9" stroke="#1a1a1a" stroke-width="0.9" stroke-linejoin="miter"/>
<path d="M559.2,935.0 L554.2,948.6 L559.2,962.2 Z" fill="#c9c9c9" stroke="#1a1a1a" stroke-width="0.9" stroke-linejoin="miter"/>
<path d="M571.7,935.0 L560.0,948.6 L571.7,962.2 Z" fill="#c9c9c9" stroke="#1a1a1a" stroke-width="0.9" stroke-linejoin="miter"/>
<path d="M600.8,941.6 L590.8,941.6 L590.8,935.0 L574.2,948.6 L590.8,962.2 L590.8,955.6 L600.8,955.6 Z" fill="#a6c80c" stroke="#1a1a1a" stroke-width="0.9" stroke-linejoin="miter"/>
<path d="M605.0,935.0 L601.3,948.6 L605.0,962.2 Z" fill="#c9c9c9" stroke="#1a1a1a" stroke-width="0.9" stroke-linejoin="miter"/>
<path d="M613.7,935.0 L605.0,948.6 L613.7,962.2 Z" fill="#c9c9c9" stroke="#1a1a1a" stroke-width="0.9" stroke-linejoin="miter"/>
<path d="M629.7,935.0 L614.2,948.6 L629.7,962.2 Z" fill="#c9c9c9" stroke="#1a1a1a" stroke-width="0.9" stroke-linejoin="miter"/>
<path d="M636.3,935.0 L630.0,948.6 L636.3,962.2 Z" fill="#c9c9c9" stroke="#1a1a1a" stroke-width="0.9" stroke-linejoin="miter"/>
<path d="M654.2,941.6 L653.3,941.6 L653.3,935.0 L636.7,948.6 L653.3,962.2 L653.3,955.6 L654.2,955.6 Z" fill="#c9c9c9" stroke="#1a1a1a" stroke-width="0.9" stroke-linejoin="miter"/>
<path d="M665.8,935.0 L654.7,948.6 L665.8,962.2 Z" fill="#c9c9c9" stroke="#1a1a1a" stroke-width="0.9" stroke-linejoin="miter"/>
<path d="M683.0,935.0 L666.3,948.6 L683.0,962.2 Z" fill="#c9c9c9" stroke="#1a1a1a" stroke-width="0.9" stroke-linejoin="miter"/>
<path d="M708.3,941.6 L700.8,941.6 L700.8,935.0 L684.2,948.6 L700.8,962.2 L700.8,955.6 L708.3,955.6 Z" fill="#c9c9c9" stroke="#1a1a1a" stroke-width="0.9" stroke-linejoin="miter"/>
<path d="M734.7,941.6 L725.8,941.6 L725.8,935.0 L709.2,948.6 L725.8,962.2 L725.8,955.6 L734.7,955.6 Z" fill="#eb9b1c" stroke="#1a1a1a" stroke-width="0.9" stroke-linejoin="miter"/>
<path d="M743.3,935.0 L734.7,948.6 L743.3,962.2 Z" fill="#c9c9c9" stroke="#1a1a1a" stroke-width="0.9" stroke-linejoin="miter"/>
<path d="M748.7,935.0 L743.7,948.6 L748.7,962.2 Z" fill="#c9c9c9" stroke="#1a1a1a" stroke-width="0.9" stroke-linejoin="miter"/>
<path d="M751.7,935.0 L747.5,948.6 L751.7,962.2 Z" fill="#c9c9c9" stroke="#1a1a1a" stroke-width="0.9" stroke-linejoin="miter"/>
<path d="M754.2,935.0 L750.8,948.6 L754.2,962.2 Z" fill="#c9c9c9" stroke="#1a1a1a" stroke-width="0.9" stroke-linejoin="miter"/>
<path d="M757.0,935.0 L753.7,948.6 L757.0,962.2 Z" fill="#c9c9c9" stroke="#1a1a1a" stroke-width="0.9" stroke-linejoin="miter"/>
<path d="M776.3,935.0 L768.3,948.6 L776.3,962.2 Z" fill="#c9c9c9" stroke="#1a1a1a" stroke-width="0.9" stroke-linejoin="miter"/>
<path d="M791.7,935.0 L776.7,948.6 L791.7,962.2 Z" fill="#c9c9c9" stroke="#1a1a1a" stroke-width="0.9" stroke-linejoin="miter"/>
<path d="M810.0,941.6 L809.1,941.6 L809.1,935.0 L792.5,948.6 L809.1,962.2 L809.1,955.6 L810.0,955.6 Z" fill="#a6c80c" stroke="#1a1a1a" stroke-width="0.9" stroke-linejoin="miter"/>
<path d="M814.7,935.0 L811.3,948.6 L814.7,962.2 Z" fill="#c9c9c9" stroke="#1a1a1a" stroke-width="0.9" stroke-linejoin="miter"/>
<path d="M850.8,935.0 L847.5,948.6 L850.8,962.2 Z" fill="#c9c9c9" stroke="#1a1a1a" stroke-width="0.9" stroke-linejoin="miter"/>
<path d="M858.7,935.0 L863.0,948.6 L858.7,962.2 Z" fill="#a6c80c" stroke="#1a1a1a" stroke-width="0.9" stroke-linejoin="miter"/>
<path d="M875.8,935.0 L892.5,948.6 L875.8,962.2 Z" fill="#c9c9c9" stroke="#1a1a1a" stroke-width="0.9" stroke-linejoin="miter"/>
<path d="M893.0,935.0 L895.0,948.6 L893.0,962.2 Z" fill="#c9c9c9" stroke="#1a1a1a" stroke-width="0.9" stroke-linejoin="miter"/>
<path d="M894.2,935.0 L902.5,948.6 L894.2,962.2 Z" fill="#c9c9c9" stroke="#1a1a1a" stroke-width="0.9" stroke-linejoin="miter"/>
<path d="M906.3,941.6 L910.1,941.6 L910.1,935.0 L926.7,948.6 L910.1,962.2 L910.1,955.6 L906.3,955.6 Z" fill="#ec6877" stroke="#1a1a1a" stroke-width="0.9" stroke-linejoin="miter"/>
<path d="M935.0,935.0 L937.0,948.6 L935.0,962.2 Z" fill="#c9c9c9" stroke="#1a1a1a" stroke-width="0.9" stroke-linejoin="miter"/>
<path d="M936.7,935.0 L945.0,948.6 L936.7,962.2 Z" fill="#c9c9c9" stroke="#1a1a1a" stroke-width="0.9" stroke-linejoin="miter"/>
<path d="M944.7,935.0 L950.8,948.6 L944.7,962.2 Z" fill="#c9c9c9" stroke="#1a1a1a" stroke-width="0.9" stroke-linejoin="miter"/>
<path d="M950.0,935.0 L956.7,948.6 L950.0,962.2 Z" fill="#c9c9c9" stroke="#1a1a1a" stroke-width="0.9" stroke-linejoin="miter"/>
<path d="M955.8,935.0 L961.7,948.6 L955.8,962.2 Z" fill="#c9c9c9" stroke="#1a1a1a" stroke-width="0.9" stroke-linejoin="miter"/>
<path d="M960.8,935.0 L966.7,948.6 L960.8,962.2 Z" fill="#c9c9c9" stroke="#1a1a1a" stroke-width="0.9" stroke-linejoin="miter"/>
<path d="M965.8,935.0 L972.5,948.6 L965.8,962.2 Z" fill="#c9c9c9" stroke="#1a1a1a" stroke-width="0.9" stroke-linejoin="miter"/>
<path d="M971.7,935.0 L978.3,948.6 L971.7,962.2 Z" fill="#c9c9c9" stroke="#1a1a1a" stroke-width="0.9" stroke-linejoin="miter"/>
<path d="M978.7,935.0 L991.3,948.6 L978.7,962.2 Z" fill="#a6c80c" stroke="#1a1a1a" stroke-width="0.9" stroke-linejoin="miter"/>
<path d="M991.3,935.0 L1002.0,948.6 L991.3,962.2 Z" fill="#c9c9c9" stroke="#1a1a1a" stroke-width="0.9" stroke-linejoin="miter"/>
<path d="M1002.5,941.6 L1019.7,941.6 L1019.7,935.0 L1036.3,948.6 L1019.7,962.2 L1019.7,955.6 L1002.5,955.6 Z" fill="#c9c9c9" stroke="#1a1a1a" stroke-width="0.9" stroke-linejoin="miter"/>
<path d="M1036.3,935.0 L1043.3,948.6 L1036.3,962.2 Z" fill="#c9c9c9" stroke="#1a1a1a" stroke-width="0.9" stroke-linejoin="miter"/>
<path d="M1042.5,935.0 L1046.3,948.6 L1042.5,962.2 Z" fill="#c9c9c9" stroke="#1a1a1a" stroke-width="0.9" stroke-linejoin="miter"/>
<path d="M1046.3,935.0 L1060.8,948.6 L1046.3,962.2 Z" fill="#c9c9c9" stroke="#1a1a1a" stroke-width="0.9" stroke-linejoin="miter"/>
<path d="M1061.3,935.0 L1074.7,948.6 L1061.3,962.2 Z" fill="#a6c80c" stroke="#1a1a1a" stroke-width="0.9" stroke-linejoin="miter"/>
<path d="M1071.3,935.0 L1084.2,948.6 L1071.3,962.2 Z" fill="#a6c80c" stroke="#1a1a1a" stroke-width="0.9" stroke-linejoin="miter"/>
<path d="M1084.2,935.0 L1088.3,948.6 L1084.2,962.2 Z" fill="#c9c9c9" stroke="#1a1a1a" stroke-width="0.9" stroke-linejoin="miter"/>
<path d="M1087.5,935.0 L1093.3,948.6 L1087.5,962.2 Z" fill="#c9c9c9" stroke="#1a1a1a" stroke-width="0.9" stroke-linejoin="miter"/>
<path d="M1093.0,935.0 L1098.3,948.6 L1093.0,962.2 Z" fill="#c9c9c9" stroke="#1a1a1a" stroke-width="0.9" stroke-linejoin="miter"/>
<path d="M1097.5,935.0 L1102.5,948.6 L1097.5,962.2 Z" fill="#c9c9c9" stroke="#1a1a1a" stroke-width="0.9" stroke-linejoin="miter"/>
<path d="M1101.7,935.0 L1105.8,948.6 L1101.7,962.2 Z" fill="#c9c9c9" stroke="#1a1a1a" stroke-width="0.9" stroke-linejoin="miter"/>
<path d="M1105.8,935.0 L1120.8,948.6 L1105.8,962.2 Z" fill="#c9c9c9" stroke="#1a1a1a" stroke-width="0.9" stroke-linejoin="miter"/>
<path d="M1120.8,935.0 L1125.0,948.6 L1120.8,962.2 Z" fill="#c9c9c9" stroke="#1a1a1a" stroke-width="0.9" stroke-linejoin="miter"/>
<path d="M1124.2,935.0 L1132.5,948.6 L1124.2,962.2 Z" fill="#c9c9c9" stroke="#1a1a1a" stroke-width="0.9" stroke-linejoin="miter"/>
<path d="M1132.5,935.0 L1137.0,948.6 L1132.5,962.2 Z" fill="#c9c9c9" stroke="#1a1a1a" stroke-width="0.9" stroke-linejoin="miter"/>
<path d="M1137.0,935.0 L1148.3,948.6 L1137.0,962.2 Z" fill="#c9c9c9" stroke="#1a1a1a" stroke-width="0.9" stroke-linejoin="miter"/>
<path d="M1148.7,935.0 L1153.0,948.6 L1148.7,962.2 Z" fill="#a6c80c" stroke="#1a1a1a" stroke-width="0.9" stroke-linejoin="miter"/>
<path d="M1153.2,935.0 L1162.2,948.6 L1153.2,962.2 Z" fill="#c9c9c9" stroke="#1a1a1a" stroke-width="0.9" stroke-linejoin="miter"/>
<path d="M1162.2,935.0 L1168.0,948.6 L1162.2,962.2 Z" fill="#c9c9c9" stroke="#1a1a1a" stroke-width="0.9" stroke-linejoin="miter"/>
<path d="M1168.0,935.0 L1177.7,948.6 L1168.0,962.2 Z" fill="#c9c9c9" stroke="#1a1a1a" stroke-width="0.9" stroke-linejoin="miter"/>
<path d="M1178.0,935.0 L1189.3,948.6 L1178.0,962.2 Z" fill="#c9c9c9" stroke="#1a1a1a" stroke-width="0.9" stroke-linejoin="miter"/>
<path d="M1189.3,935.0 L1199.6,948.6 L1189.3,962.2 Z" fill="#a6c80c" stroke="#1a1a1a" stroke-width="0.9" stroke-linejoin="miter"/>
<path d="M1201.5,935.0 L1214.4,948.6 L1201.5,962.2 Z" fill="#a6c80c" stroke="#1a1a1a" stroke-width="0.9" stroke-linejoin="miter"/>
<path d="M1214.4,935.0 L1222.8,948.6 L1214.4,962.2 Z" fill="#c9c9c9" stroke="#1a1a1a" stroke-width="0.9" stroke-linejoin="miter"/>
<path d="M1235.6,935.0 L1224.7,948.6 L1235.6,962.2 Z" fill="#c9c9c9" stroke="#1a1a1a" stroke-width="0.9" stroke-linejoin="miter"/>
<path d="M1240.1,935.0 L1237.6,948.6 L1240.1,962.2 Z" fill="#c9c9c9" stroke="#1a1a1a" stroke-width="0.9" stroke-linejoin="miter"/>
<path d="M1258.2,941.6 L1256.7,941.6 L1256.7,935.0 L1240.1,948.6 L1256.7,962.2 L1256.7,955.6 L1258.2,955.6 Z" fill="#c9c9c9" stroke="#1a1a1a" stroke-width="0.9" stroke-linejoin="miter"/>
<path d="M1262.0,935.0 L1271.7,948.6 L1262.0,962.2 Z" fill="#c9c9c9" stroke="#1a1a1a" stroke-width="0.9" stroke-linejoin="miter"/>
<path d="M1285.9,935.0 L1271.7,948.6 L1285.9,962.2 Z" fill="#c9c9c9" stroke="#1a1a1a" stroke-width="0.9" stroke-linejoin="miter"/>
<line x1="310" y1="1019.7" x2="1113.7" y2="1019.7" stroke="#000" stroke-width="3.6"/>
<path d="M313.3,1012.7 L318.7,1012.7 L318.7,1006.1 L335.3,1019.7 L318.7,1033.3 L318.7,1026.7 L313.3,1026.7 Z" fill="#ec6877" stroke="#1a1a1a" stroke-width="0.9" stroke-linejoin="miter"/>
<path d="M340.8,1006.1 L350.0,1019.7 L340.8,1033.3 Z" fill="#c9c9c9" stroke="#1a1a1a" stroke-width="0.9" stroke-linejoin="miter"/>
<path d="M355.0,1019.7 L356.5,1006.1 L358.0,1019.7 L356.5,1033.3 Z" fill="#2fb7bc" stroke="#1a1a1a" stroke-width="0.9" stroke-linejoin="miter"/>
<path d="M360.8,1006.1 L365.0,1019.7 L360.8,1033.3 Z" fill="#c9c9c9" stroke="#1a1a1a" stroke-width="0.9" stroke-linejoin="miter"/>
<path d="M364.2,1006.1 L368.7,1019.7 L364.2,1033.3 Z" fill="#c9c9c9" stroke="#1a1a1a" stroke-width="0.9" stroke-linejoin="miter"/>
<path d="M367.5,1006.1 L373.3,1019.7 L367.5,1033.3 Z" fill="#c9c9c9" stroke="#1a1a1a" stroke-width="0.9" stroke-linejoin="miter"/>
<path d="M373.3,1006.1 L380.0,1019.7 L373.3,1033.3 Z" fill="#c9c9c9" stroke="#1a1a1a" stroke-width="0.9" stroke-linejoin="miter"/>
<path d="M380.0,1006.1 L385.3,1019.7 L380.0,1033.3 Z" fill="#c9c9c9" stroke="#1a1a1a" stroke-width="0.9" stroke-linejoin="miter"/>
<path d="M385.0,1006.1 L390.8,1019.7 L385.0,1033.3 Z" fill="#c9c9c9" stroke="#1a1a1a" stroke-width="0.9" stroke-linejoin="miter"/>
<path d="M390.8,1006.1 L396.7,1019.7 L390.8,1033.3 Z" fill="#c9c9c9" stroke="#1a1a1a" stroke-width="0.9" stroke-linejoin="miter"/>
<path d="M397.0,1006.1 L408.7,1019.7 L397.0,1033.3 Z" fill="#a6c80c" stroke="#1a1a1a" stroke-width="0.9" stroke-linejoin="miter"/>
<path d="M409.2,1006.1 L413.3,1019.7 L409.2,1033.3 Z" fill="#c9c9c9" stroke="#1a1a1a" stroke-width="0.9" stroke-linejoin="miter"/>
<path d="M413.3,1006.1 L418.3,1019.7 L413.3,1033.3 Z" fill="#c9c9c9" stroke="#1a1a1a" stroke-width="0.9" stroke-linejoin="miter"/>
<path d="M418.0,1006.1 L425.8,1019.7 L418.0,1033.3 Z" fill="#c9c9c9" stroke="#1a1a1a" stroke-width="0.9" stroke-linejoin="miter"/>
<path d="M426.7,1006.1 L431.7,1019.7 L426.7,1033.3 Z" fill="#c9c9c9" stroke="#1a1a1a" stroke-width="0.9" stroke-linejoin="miter"/>
<path d="M431.7,1006.1 L435.8,1019.7 L431.7,1033.3 Z" fill="#c9c9c9" stroke="#1a1a1a" stroke-width="0.9" stroke-linejoin="miter"/>
<path d="M435.8,1006.1 L440.8,1019.7 L435.8,1033.3 Z" fill="#c9c9c9" stroke="#1a1a1a" stroke-width="0.9" stroke-linejoin="miter"/>
<path d="M441.3,1006.1 L448.0,1019.7 L441.3,1033.3 Z" fill="#a6c80c" stroke="#1a1a1a" stroke-width="0.9" stroke-linejoin="miter"/>
<path d="M448.0,1006.1 L463.0,1019.7 L448.0,1033.3 Z" fill="#c9c9c9" stroke="#1a1a1a" stroke-width="0.9" stroke-linejoin="miter"/>
<path d="M463.0,1006.1 L467.5,1019.7 L463.0,1033.3 Z" fill="#c9c9c9" stroke="#1a1a1a" stroke-width="0.9" stroke-linejoin="miter"/>
<path d="M466.7,1006.1 L473.3,1019.7 L466.7,1033.3 Z" fill="#c9c9c9" stroke="#1a1a1a" stroke-width="0.9" stroke-linejoin="miter"/>
<path d="M473.3,1006.1 L479.2,1019.7 L473.3,1033.3 Z" fill="#c9c9c9" stroke="#1a1a1a" stroke-width="0.9" stroke-linejoin="miter"/>
<path d="M479.2,1006.1 L484.2,1019.7 L479.2,1033.3 Z" fill="#c9c9c9" stroke="#1a1a1a" stroke-width="0.9" stroke-linejoin="miter"/>
<path d="M484.2,1006.1 L490.0,1019.7 L484.2,1033.3 Z" fill="#c9c9c9" stroke="#1a1a1a" stroke-width="0.9" stroke-linejoin="miter"/>
<path d="M490.0,1006.1 L498.3,1019.7 L490.0,1033.3 Z" fill="#c9c9c9" stroke="#1a1a1a" stroke-width="0.9" stroke-linejoin="miter"/>
<path d="M508.3,1006.1 L513.3,1019.7 L508.3,1033.3 Z" fill="#c9c9c9" stroke="#1a1a1a" stroke-width="0.9" stroke-linejoin="miter"/>
<rect x="515.5" y="1006.1" width="1.8" height="27.2" fill="#8c1c1c" stroke="#111" stroke-width="0.8"/>
<path d="M518.0,1006.1 L521.7,1019.7 L518.0,1033.3 Z" fill="#c9c9c9" stroke="#1a1a1a" stroke-width="0.9" stroke-linejoin="miter"/>
<path d="M520.8,1006.1 L526.7,1019.7 L520.8,1033.3 Z" fill="#c9c9c9" stroke="#1a1a1a" stroke-width="0.9" stroke-linejoin="miter"/>
<path d="M527.0,1006.1 L539.2,1019.7 L527.0,1033.3 Z" fill="#c9c9c9" stroke="#1a1a1a" stroke-width="0.9" stroke-linejoin="miter"/>
<path d="M539.7,1012.7 L551.7,1012.7 L551.7,1006.1 L568.3,1019.7 L551.7,1033.3 L551.7,1026.7 L539.7,1026.7 Z" fill="#eb9b1c" stroke="#1a1a1a" stroke-width="0.9" stroke-linejoin="miter"/>
<path d="M569.2,1012.7 L584.2,1012.7 L584.2,1006.1 L600.8,1019.7 L584.2,1033.3 L584.2,1026.7 L569.2,1026.7 Z" fill="#eb9b1c" stroke="#1a1a1a" stroke-width="0.9" stroke-linejoin="miter"/>
<path d="M602.0,1012.7 L647.6,1012.7 L647.6,1006.1 L664.2,1019.7 L647.6,1033.3 L647.6,1026.7 L602.0,1026.7 Z" fill="#eb9b1c" stroke="#1a1a1a" stroke-width="0.9" stroke-linejoin="miter"/>
<path d="M664.7,1006.1 L673.0,1019.7 L664.7,1033.3 Z" fill="#c9c9c9" stroke="#1a1a1a" stroke-width="0.9" stroke-linejoin="miter"/>
<path d="M673.0,1006.1 L678.0,1019.7 L673.0,1033.3 Z" fill="#c9c9c9" stroke="#1a1a1a" stroke-width="0.9" stroke-linejoin="miter"/>
<path d="M677.5,1006.1 L684.2,1019.7 L677.5,1033.3 Z" fill="#c9c9c9" stroke="#1a1a1a" stroke-width="0.9" stroke-linejoin="miter"/>
<path d="M694.7,1012.7 L697.1,1012.7 L697.1,1006.1 L713.7,1019.7 L697.1,1033.3 L697.1,1026.7 L694.7,1026.7 Z" fill="#a6c80c" stroke="#1a1a1a" stroke-width="0.9" stroke-linejoin="miter"/>
<path d="M715.0,1012.7 L718.4,1012.7 L718.4,1006.1 L735.0,1019.7 L718.4,1033.3 L718.4,1026.7 L715.0,1026.7 Z" fill="#c9c9c9" stroke="#1a1a1a" stroke-width="0.9" stroke-linejoin="miter"/>
<path d="M735.0,1006.1 L737.0,1019.7 L735.0,1033.3 Z" fill="#c9c9c9" stroke="#1a1a1a" stroke-width="0.9" stroke-linejoin="miter"/>
<path d="M738.0,1006.1 L746.3,1019.7 L738.0,1033.3 Z" fill="#c9c9c9" stroke="#1a1a1a" stroke-width="0.9" stroke-linejoin="miter"/>
<path d="M746.3,1006.1 L755.0,1019.7 L746.3,1033.3 Z" fill="#c9c9c9" stroke="#1a1a1a" stroke-width="0.9" stroke-linejoin="miter"/>
<path d="M755.0,1006.1 L765.3,1019.7 L755.0,1033.3 Z" fill="#c9c9c9" stroke="#1a1a1a" stroke-width="0.9" stroke-linejoin="miter"/>
<path d="M766.3,1012.7 L775.4,1012.7 L775.4,1006.1 L792.0,1019.7 L775.4,1033.3 L775.4,1026.7 L766.3,1026.7 Z" fill="#a6c80c" stroke="#1a1a1a" stroke-width="0.9" stroke-linejoin="miter"/>
<path d="M793.0,1006.1 L801.7,1019.7 L793.0,1033.3 Z" fill="#c9c9c9" stroke="#1a1a1a" stroke-width="0.9" stroke-linejoin="miter"/>
<path d="M807.5,1012.7 L892.1,1012.7 L892.1,1006.1 L908.7,1019.7 L892.1,1033.3 L892.1,1026.7 L807.5,1026.7 Z" fill="#a6c80c" stroke="#1a1a1a" stroke-width="0.9" stroke-linejoin="miter"/>
<path d="M909.2,1012.7 L926.4,1012.7 L926.4,1006.1 L943.0,1019.7 L926.4,1033.3 L926.4,1026.7 L909.2,1026.7 Z" fill="#a6c80c" stroke="#1a1a1a" stroke-width="0.9" stroke-linejoin="miter"/>
<path d="M954.7,1006.1 L943.7,1019.7 L954.7,1033.3 Z" fill="#c9c9c9" stroke="#1a1a1a" stroke-width="0.9" stroke-linejoin="miter"/>
<path d="M955.8,1012.7 L969.2,1012.7 L969.2,1006.1 L985.8,1019.7 L969.2,1033.3 L969.2,1026.7 L955.8,1026.7 Z" fill="#a6c80c" stroke="#1a1a1a" stroke-width="0.9" stroke-linejoin="miter"/>
<path d="M986.3,1012.7 L1025.4,1012.7 L1025.4,1006.1 L1042.0,1019.7 L1025.4,1033.3 L1025.4,1026.7 L986.3,1026.7 Z" fill="#eb9b1c" stroke="#1a1a1a" stroke-width="0.9" stroke-linejoin="miter"/>
<path d="M1042.5,1012.7 L1077.1,1012.7 L1077.1,1006.1 L1093.7,1019.7 L1077.1,1033.3 L1077.1,1026.7 L1042.5,1026.7 Z" fill="#eb9b1c" stroke="#1a1a1a" stroke-width="0.9" stroke-linejoin="miter"/>
<path d="M1094.2,1006.1 L1110.3,1019.7 L1094.2,1033.3 Z" fill="#c67bb6" stroke="#1a1a1a" stroke-width="0.9" stroke-linejoin="miter"/>
<text transform="translate(10.50,577.00) scale(1.0500,1)" font-size="27.5" font-weight="bold" fill="#231f20" >c</text>
<text transform="translate(210.20,652.30)" font-size="18.2" font-weight="bold" fill="#6a0b10" >VC_323</text>
<text transform="translate(198.20,681.40) scale(1.0400,1)" font-size="16.6" font-weight="bold" font-style="italic" fill="#231f20" >(M. Smithii)</text>
<text transform="translate(213.60,727.80)" font-size="18.2" font-weight="bold" fill="#6a0b10" >VC_324</text>
<text transform="translate(201.60,751.70) scale(1.0400,1)" font-size="16.6" font-weight="bold" font-style="italic" fill="#231f20" >(M. Smithii)</text>
<text transform="translate(146.40,792.00)" font-size="18.2" font-weight="bold" fill="#6a0b10" >VC_358</text>
<text transform="translate(134.00,818.50) scale(1.0400,1)" font-size="16.6" font-weight="bold" font-style="italic" fill="#231f20" >(M. Smithii)</text>
<text transform="translate(83.70,873.00)" font-size="18.2" font-weight="bold" fill="#6a0b10" >VC_359</text>
<text transform="translate(67.30,897.10) scale(1.0400,1)" font-size="16.6" font-weight="bold" font-style="italic" fill="#231f20" >(M. Smithii)</text>
<text transform="translate(53.70,946.00)" font-size="18.2" font-weight="bold" fill="#6a0b10" >VC_370</text>
<text transform="translate(40.50,974.10) scale(1.0400,1)" font-size="16.6" font-weight="bold" font-style="italic" fill="#231f20" >(M. Smithii)</text>
<text transform="translate(222.40,1019.70)" font-size="18.2" font-weight="bold" fill="#6a0b10" >VC_326</text>
<text transform="translate(210.50,1044.10) scale(1.0400,1)" font-size="16.6" font-weight="bold" font-style="italic" fill="#231f20" >(M. olleyae)</text>
<text transform="translate(1103.00,696.80) scale(1.0650,1)" font-size="16.8" fill="#231f20" >41525 bp</text>
<text transform="translate(1089.40,755.80) scale(1.0650,1)" font-size="16.8" fill="#231f20" >39081 bp</text>
<text transform="translate(1142.30,838.90) scale(1.0650,1)" font-size="16.8" fill="#231f20" >46906 bp</text>
<text transform="translate(1227.20,909.90) scale(1.0650,1)" font-size="16.8" fill="#231f20" >53669 bp</text>
<text transform="translate(1230.40,988.90) scale(1.0650,1)" font-size="16.8" fill="#231f20" >57783 bp</text>
<text transform="translate(1095.40,1050.70) scale(1.0650,1)" font-size="16.8" fill="#231f20" >40452 bp</text>
<line x1="317.20" y1="648.40" x2="325.10" y2="633.80" stroke="#222" stroke-width="0.8" />
<text transform="translate(325.5,634.2) rotate(-45)" font-size="14" fill="#1a1a1a">PTR</text>
<line x1="502.90" y1="648.60" x2="511.10" y2="634.50" stroke="#222" stroke-width="0.8" />
<text transform="translate(509.8,633.8) rotate(-45)" font-size="14" fill="#1a1a1a">Baseplate_J</text>
<line x1="574.50" y1="648.50" x2="582.30" y2="634.30" stroke="#222" stroke-width="0.8" />
<text transform="translate(581.5,634.7) rotate(-45)" font-size="14" fill="#1a1a1a">Transglut_core</text>
<line x1="624.70" y1="650.50" x2="631.60" y2="636.70" stroke="#222" stroke-width="0.8" />
<text transform="translate(632.3,633.8) rotate(-45)" font-size="14" fill="#1a1a1a">SesA</text>
<line x1="765.50" y1="648.50" x2="774.40" y2="636.10" stroke="#222" stroke-width="0.8" />
<text transform="translate(773.0,634.2) rotate(-45)" font-size="14" fill="#1a1a1a">CarboxypepD_reg</text>
<line x1="850.00" y1="648.30" x2="855.50" y2="637.10" stroke="#222" stroke-width="0.8" />
<text transform="translate(861.0,634.0) rotate(-45)" font-size="14" fill="#1a1a1a">Phage_Mu_F</text>
<line x1="879.20" y1="648.00" x2="883.50" y2="637.10" stroke="#222" stroke-width="0.8" />
<text transform="translate(891.0,634.0) rotate(-45)" font-size="14" fill="#1a1a1a">Phage_portal</text>
<line x1="905.00" y1="648.00" x2="909.40" y2="636.60" stroke="#222" stroke-width="0.8" />
<text transform="translate(916.0,634.2) rotate(-45)" font-size="14" fill="#1a1a1a">Terminase_6</text>
<line x1="1014.70" y1="648.00" x2="1021.90" y2="634.10" stroke="#222" stroke-width="0.8" />
<text transform="translate(1027.3,634.0) rotate(-45)" font-size="14" fill="#1a1a1a">HNH</text>
<line x1="1095.00" y1="648.30" x2="1100.80" y2="636.10" stroke="#222" stroke-width="0.8" />
<text transform="translate(1099.3,634.0) rotate(-45)" font-size="14" fill="#1a1a1a">ERF</text>
<line x1="1121.70" y1="648.30" x2="1128.60" y2="636.80" stroke="#222" stroke-width="0.8" />
<text transform="translate(1133.5,634.7) rotate(-45)" font-size="14" fill="#1a1a1a">MazE_antitoxin</text>
<defs><linearGradient id="cg" x1="0" y1="0" x2="0" y2="1"><stop offset="0" stop-color="#6b3a08"/><stop offset="0.5" stop-color="#a68462"/><stop offset="1" stop-color="#dcdcdc"/></linearGradient></defs>
<rect x="1208.70" y="653.60" width="19.10" height="110.00" fill="url(#cg)" />
<text transform="translate(1234.00,669.00)" font-size="14" fill="#231f20" >100%</text>
<text transform="translate(1233.40,763.30)" font-size="14" fill="#231f20" >30%</text>
<path d="M314.1,1067.3 L324.5,1067.3 L324.5,1060.0 L339.5,1074.5 L324.5,1089.0 L324.5,1081.7 L314.1,1081.7 Z" fill="#c9c9c9" stroke="#333" stroke-width="0.9"/>
<text transform="translate(346.30,1079.50)" font-size="19.4" font-weight="bold" fill="#111" >Hypothetical protein</text>
<path d="M584.1,1067.3 L594.5,1067.3 L594.5,1060.0 L609.5,1074.5 L594.5,1089.0 L594.5,1081.7 L584.1,1081.7 Z" fill="#ec6877" stroke="#333" stroke-width="0.9"/>
<text transform="translate(615.50,1079.50)" font-size="19.4" font-weight="bold" fill="#111" >Phage_integrase protein</text>
<path d="M860.3,1067.3 L870.7,1067.3 L870.7,1060.0 L885.7,1074.5 L870.7,1089.0 L870.7,1081.7 L860.3,1081.7 Z" fill="#c67bb6" stroke="#333" stroke-width="0.9"/>
<text transform="translate(892.50,1079.50)" font-size="19.4" font-weight="bold" fill="#111" >PeiW protein</text>
<rect x="1046.6" y="1059.2" width="7.8" height="30.6" fill="#a01c24" stroke="#333" stroke-width="0.6"/>
<text transform="translate(1064.50,1079.50)" font-size="19.4" font-weight="bold" fill="#111" >tRNA</text>
<path d="M314.1,1109.2 L324.5,1109.2 L324.5,1101.9 L339.5,1116.4 L324.5,1130.9 L324.5,1123.6 L314.1,1123.6 Z" fill="#2fb7bc" stroke="#333" stroke-width="0.9"/>
<text transform="translate(346.30,1120.90)" font-size="19.4" font-weight="bold" fill="#111" >MazE_antitoxin protein</text>
<path d="M584.1,1109.2 L594.5,1109.2 L594.5,1101.9 L609.5,1116.4 L594.5,1130.9 L594.5,1123.6 L584.1,1123.6 Z" fill="#eb9b1c" stroke="#333" stroke-width="0.9"/>
<text transform="translate(615.50,1120.90)" font-size="19.4" font-weight="bold" fill="#111" >Structural protein</text>
<path d="M812.0,1109.2 L822.4,1109.2 L822.4,1101.9 L837.4,1116.4 L822.4,1130.9 L822.4,1123.6 L812.0,1123.6 Z" fill="#a6c80c" stroke="#333" stroke-width="0.9"/>
<text transform="translate(841.40,1120.90)" font-size="19.4" font-weight="bold" fill="#111" >Other functional protein</text>
</svg></body></html>
